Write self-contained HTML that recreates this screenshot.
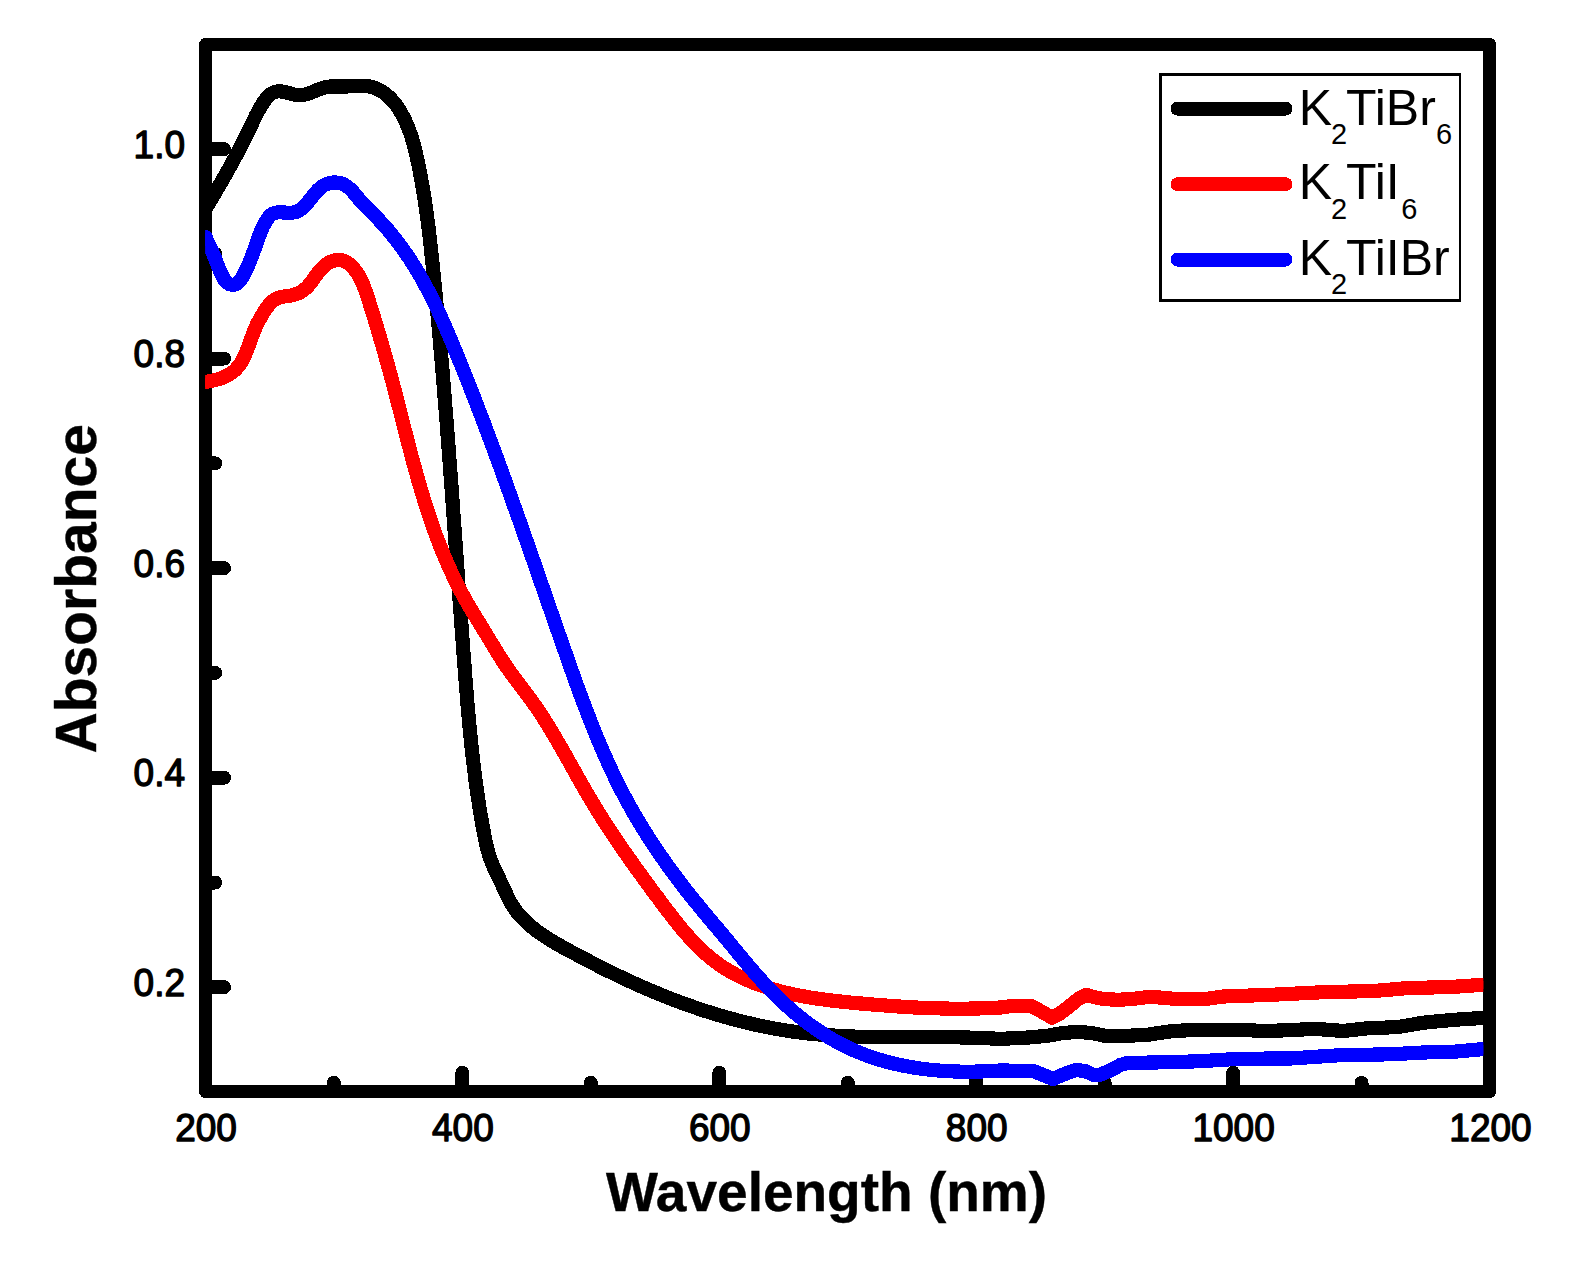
<!DOCTYPE html>
<html lang="en"><head><meta charset="utf-8"><title>Absorbance vs Wavelength</title>
<style>
html,body{margin:0;padding:0;background:#fff;}
body{width:1584px;height:1269px;overflow:hidden;}
svg text{white-space:pre;}
</style></head><body>
<svg width="1584" height="1269" viewBox="0 0 1584 1269" style="display:block" shape-rendering="crispEdges">
<defs><clipPath id="plotclip"><rect x="205.1" y="44" width="1278.2" height="1048"/></clipPath></defs>
<rect width="1584" height="1269" fill="#fff"/>
<g stroke="#000" stroke-width="14" stroke-linecap="round" fill="none">
<line x1="333.9" y1="1090" x2="333.9" y2="1082.8"/>
<line x1="462.4" y1="1090" x2="462.4" y2="1072.8"/>
<line x1="590.8" y1="1090" x2="590.8" y2="1082.8"/>
<line x1="719.3" y1="1090" x2="719.3" y2="1072.8"/>
<line x1="847.8" y1="1090" x2="847.8" y2="1082.8"/>
<line x1="976.2" y1="1090" x2="976.2" y2="1072.8"/>
<line x1="1104.7" y1="1090" x2="1104.7" y2="1082.8"/>
<line x1="1233.1" y1="1090" x2="1233.1" y2="1072.8"/>
<line x1="1361.5" y1="1090" x2="1361.5" y2="1082.8"/>
<line x1="208" y1="987.2" x2="224.0" y2="987.2"/>
<line x1="208" y1="882.5" x2="215.2" y2="882.5"/>
<line x1="208" y1="777.7" x2="224.0" y2="777.7"/>
<line x1="208" y1="672.9" x2="215.2" y2="672.9"/>
<line x1="208" y1="568.2" x2="224.0" y2="568.2"/>
<line x1="208" y1="463.4" x2="215.2" y2="463.4"/>
<line x1="208" y1="358.6" x2="224.0" y2="358.6"/>
<line x1="208" y1="253.8" x2="215.2" y2="253.8"/>
<line x1="208" y1="149.1" x2="224.0" y2="149.1"/>
</g>
<rect x="205.6" y="44.4" width="1284" height="1047.2" fill="none" stroke="#000" stroke-width="13" stroke-linejoin="round"/>
<g clip-path="url(#plotclip)" fill="none" stroke-width="14.2" stroke-linejoin="round" stroke-linecap="butt">
<path stroke="#000" d="M199.0 220.0 C199.4 219.3 200.7 217.1 201.5 215.7 C202.4 214.2 203.3 212.8 204.1 211.4 C205.0 209.9 205.8 208.5 206.7 207.1 C207.5 205.6 208.4 204.2 209.2 202.7 C210.1 201.3 210.9 199.9 211.8 198.4 C212.6 197.0 213.5 195.5 214.3 194.1 C215.2 192.7 216.0 191.2 216.8 189.8 C217.7 188.3 218.5 186.9 219.4 185.4 C220.2 184.0 221.0 182.5 221.9 181.1 C222.7 179.6 223.5 178.2 224.4 176.7 C225.2 175.3 226.0 173.8 226.8 172.4 C227.6 170.9 228.5 169.5 229.3 168.0 C230.1 166.5 230.9 165.1 231.7 163.6 C232.5 162.2 233.3 160.7 234.1 159.2 C234.9 157.8 235.7 156.3 236.5 154.8 C237.2 153.3 238.0 151.9 238.8 150.4 C239.6 148.9 240.3 147.4 241.1 146.0 C241.9 144.5 242.6 143.0 243.4 141.5 C244.1 140.0 244.9 138.5 245.6 137.0 C246.4 135.5 247.1 134.0 247.8 132.5 C248.5 131.0 249.3 129.5 250.0 128.0 C250.7 126.5 251.4 125.0 252.1 123.5 C252.8 122.0 253.5 120.5 254.3 118.9 C255.0 117.4 255.7 115.9 256.5 114.4 C257.3 112.9 258.1 111.4 258.9 109.9 C259.7 108.4 260.6 107.0 261.5 105.5 C262.4 104.0 263.3 102.5 264.3 101.1 C265.3 99.7 266.4 98.2 267.5 97.0 C268.7 95.8 269.9 94.6 271.2 93.8 C272.5 92.9 273.8 92.2 275.3 91.8 C276.8 91.4 278.3 91.3 279.9 91.4 C281.5 91.4 283.2 91.7 284.8 92.0 C286.5 92.4 288.2 92.9 289.8 93.4 C291.5 93.8 293.2 94.4 294.9 94.6 C296.5 94.9 298.2 95.2 299.8 95.2 C301.5 95.1 303.1 94.9 304.7 94.6 C306.3 94.2 307.9 93.7 309.5 93.2 C311.1 92.6 312.6 91.9 314.2 91.3 C315.8 90.7 317.3 89.9 318.9 89.3 C320.5 88.7 322.0 88.1 323.6 87.7 C325.2 87.2 326.8 86.9 328.4 86.7 C330.0 86.5 331.6 86.5 333.3 86.4 C334.9 86.4 336.6 86.5 338.3 86.5 C339.9 86.6 341.6 86.6 343.3 86.6 C345.0 86.6 346.7 86.5 348.4 86.4 C350.1 86.3 351.8 86.1 353.5 86.0 C355.2 86.0 356.9 85.8 358.6 85.8 C360.3 85.8 362.0 85.8 363.6 85.8 C365.3 85.9 366.9 86.1 368.6 86.3 C370.2 86.6 371.8 87.0 373.4 87.5 C374.9 88.0 376.5 88.6 378.0 89.3 C379.4 90.0 380.9 90.8 382.3 91.6 C383.6 92.5 385.0 93.5 386.3 94.5 C387.5 95.6 388.8 96.7 389.9 97.9 C391.1 99.0 392.3 100.3 393.4 101.6 C394.4 102.8 395.5 104.2 396.5 105.6 C397.5 106.9 398.4 108.4 399.3 109.8 C400.2 111.3 401.1 112.8 401.9 114.3 C402.8 115.8 403.6 117.3 404.3 118.8 C405.0 120.3 405.8 121.9 406.4 123.4 C407.1 124.9 407.7 126.5 408.4 128.1 C409.0 129.6 409.5 131.2 410.1 132.8 C410.6 134.3 411.2 135.9 411.7 137.5 C412.2 139.1 412.6 140.7 413.1 142.3 C413.6 143.9 414.0 145.5 414.4 147.1 C414.8 148.7 415.2 150.4 415.6 152.0 C416.0 153.6 416.4 155.2 416.7 156.8 C417.1 158.5 417.5 160.1 417.8 161.7 C418.1 163.4 418.5 165.0 418.8 166.6 C419.2 168.2 419.5 169.9 419.8 171.5 C420.1 173.1 420.4 174.8 420.7 176.4 C421.0 178.1 421.3 179.7 421.6 181.3 C421.9 183.0 422.2 184.6 422.5 186.3 C422.8 187.9 423.1 189.6 423.3 191.2 C423.6 192.8 423.9 194.5 424.1 196.1 C424.4 197.8 424.6 199.4 424.9 201.1 C425.1 202.7 425.4 204.4 425.6 206.0 C425.9 207.7 426.1 209.3 426.3 211.0 C426.5 212.7 426.8 214.3 427.0 216.0 C427.2 217.6 427.4 219.3 427.7 220.9 C427.9 222.6 428.1 224.2 428.3 225.9 C428.5 227.6 428.7 229.2 428.9 230.9 C429.1 232.5 429.3 234.2 429.5 235.9 C429.7 237.5 429.9 239.2 430.1 240.8 C430.2 242.5 430.4 244.2 430.6 245.8 C430.8 247.5 431.0 249.2 431.2 250.8 C431.3 252.5 431.5 254.2 431.7 255.8 C431.9 257.5 432.1 259.1 432.2 260.8 C432.4 262.5 432.6 264.1 432.7 265.8 C432.9 267.5 433.1 269.1 433.3 270.8 C433.4 272.5 433.6 274.1 433.8 275.8 C433.9 277.4 434.1 279.1 434.3 280.8 C434.4 282.4 434.6 284.1 434.7 285.8 C434.9 287.4 435.1 289.1 435.2 290.8 C435.4 292.4 435.6 294.1 435.7 295.8 C435.9 297.4 436.0 299.1 436.2 300.8 C436.4 302.4 436.5 304.1 436.7 305.7 C436.8 307.4 437.0 309.1 437.1 310.7 C437.3 312.4 437.5 314.1 437.6 315.7 C437.8 317.4 437.9 319.1 438.1 320.7 C438.2 322.4 438.4 324.1 438.5 325.7 C438.7 327.4 438.8 329.1 439.0 330.7 C439.1 332.4 439.3 334.0 439.4 335.7 C439.6 337.4 439.7 339.0 439.9 340.7 C440.0 342.4 440.2 344.0 440.3 345.7 C440.5 347.4 440.6 349.0 440.7 350.7 C440.9 352.4 441.0 354.0 441.2 355.7 C441.3 357.4 441.5 359.0 441.6 360.7 C441.8 362.4 441.9 364.0 442.0 365.7 C442.2 367.3 442.3 369.0 442.5 370.7 C442.6 372.3 442.7 374.0 442.9 375.7 C443.0 377.3 443.1 379.0 443.3 380.7 C443.4 382.3 443.6 384.0 443.7 385.7 C443.8 387.3 444.0 389.0 444.1 390.7 C444.2 392.3 444.4 394.0 444.5 395.7 C444.6 397.3 444.8 399.0 444.9 400.7 C445.0 402.3 445.2 404.0 445.3 405.6 C445.4 407.3 445.6 409.0 445.7 410.6 C445.8 412.3 446.0 414.0 446.1 415.6 C446.2 417.3 446.4 419.0 446.5 420.6 C446.6 422.3 446.7 424.0 446.9 425.6 C447.0 427.3 447.1 429.0 447.3 430.6 C447.4 432.3 447.5 434.0 447.6 435.6 C447.8 437.3 447.9 439.0 448.0 440.6 C448.2 442.3 448.3 444.0 448.4 445.6 C448.5 447.3 448.7 449.0 448.8 450.6 C448.9 452.3 449.0 454.0 449.2 455.6 C449.3 457.3 449.4 458.9 449.5 460.6 C449.7 462.3 449.8 463.9 449.9 465.6 C450.0 467.3 450.1 468.9 450.3 470.6 C450.4 472.3 450.5 473.9 450.6 475.6 C450.8 477.3 450.9 478.9 451.0 480.6 C451.1 482.3 451.3 483.9 451.4 485.6 C451.5 487.3 451.6 488.9 451.7 490.6 C451.9 492.3 452.0 493.9 452.1 495.6 C452.2 497.3 452.3 498.9 452.5 500.6 C452.6 502.3 452.7 503.9 452.8 505.6 C452.9 507.3 453.1 508.9 453.2 510.6 C453.3 512.3 453.4 513.9 453.5 515.6 C453.7 517.3 453.8 518.9 453.9 520.6 C454.0 522.3 454.1 523.9 454.3 525.6 C454.4 527.3 454.5 528.9 454.6 530.6 C454.7 532.2 454.9 533.9 455.0 535.6 C455.1 537.2 455.2 538.9 455.3 540.6 C455.5 542.2 455.6 543.9 455.7 545.6 C455.8 547.2 455.9 548.9 456.0 550.6 C456.2 552.2 456.3 553.9 456.4 555.6 C456.5 557.2 456.6 558.9 456.8 560.6 C456.9 562.2 457.0 563.9 457.1 565.6 C457.2 567.2 457.4 568.9 457.5 570.6 C457.6 572.2 457.7 573.9 457.8 575.6 C458.0 577.2 458.1 578.9 458.2 580.6 C458.3 582.2 458.4 583.9 458.5 585.6 C458.7 587.2 458.8 588.9 458.9 590.6 C459.0 592.2 459.1 593.9 459.3 595.6 C459.4 597.2 459.5 598.9 459.6 600.6 C459.8 602.2 459.9 603.9 460.0 605.6 C460.1 607.2 460.2 608.9 460.4 610.6 C460.5 612.2 460.6 613.9 460.7 615.6 C460.8 617.2 461.0 618.9 461.1 620.6 C461.2 622.2 461.3 623.9 461.5 625.6 C461.6 627.2 461.7 628.9 461.8 630.6 C461.9 632.2 462.1 633.9 462.2 635.6 C462.3 637.2 462.4 638.9 462.6 640.6 C462.7 642.2 462.8 643.9 462.9 645.6 C463.1 647.2 463.2 648.9 463.3 650.6 C463.4 652.2 463.6 653.9 463.7 655.6 C463.8 657.2 463.9 658.9 464.1 660.6 C464.2 662.2 464.3 663.9 464.5 665.6 C464.6 667.2 464.7 668.9 464.8 670.6 C465.0 672.2 465.1 673.9 465.2 675.6 C465.4 677.2 465.5 678.9 465.6 680.6 C465.7 682.2 465.9 683.9 466.0 685.6 C466.1 687.2 466.3 688.9 466.4 690.6 C466.5 692.2 466.7 693.9 466.8 695.6 C466.9 697.2 467.1 698.9 467.2 700.6 C467.4 702.2 467.5 703.9 467.6 705.6 C467.8 707.2 467.9 708.9 468.1 710.6 C468.2 712.2 468.4 713.9 468.5 715.5 C468.7 717.2 468.8 718.9 469.0 720.5 C469.1 722.2 469.3 723.9 469.4 725.5 C469.6 727.2 469.8 728.9 469.9 730.5 C470.1 732.2 470.2 733.9 470.4 735.5 C470.6 737.2 470.7 738.8 470.9 740.5 C471.1 742.2 471.2 743.8 471.4 745.5 C471.6 747.2 471.8 748.8 472.0 750.5 C472.1 752.1 472.3 753.8 472.5 755.5 C472.7 757.1 472.9 758.8 473.1 760.4 C473.3 762.1 473.5 763.8 473.7 765.4 C473.9 767.1 474.1 768.7 474.3 770.4 C474.5 772.1 474.7 773.7 474.9 775.4 C475.1 777.0 475.3 778.7 475.5 780.3 C475.8 782.0 476.0 783.7 476.2 785.3 C476.4 787.0 476.7 788.6 476.9 790.3 C477.1 791.9 477.4 793.6 477.6 795.2 C477.9 796.9 478.1 798.5 478.4 800.2 C478.6 801.8 478.9 803.5 479.1 805.2 C479.4 806.8 479.6 808.5 479.9 810.1 C480.2 811.8 480.5 813.4 480.7 815.1 C481.0 816.7 481.3 818.4 481.6 820.0 C481.9 821.6 482.2 823.3 482.4 824.9 C482.7 826.6 483.0 828.2 483.4 829.9 C483.7 831.5 484.0 833.2 484.3 834.8 C484.6 836.5 484.9 838.1 485.3 839.7 C485.6 841.4 486.0 843.0 486.3 844.6 C486.7 846.3 487.1 847.9 487.5 849.5 C487.9 851.1 488.4 852.7 488.9 854.3 C489.3 855.9 489.9 857.4 490.4 859.0 C491.0 860.6 491.6 862.1 492.2 863.6 C492.8 865.1 493.5 866.7 494.2 868.2 C494.8 869.7 495.6 871.2 496.3 872.7 C497.0 874.2 497.7 875.7 498.5 877.2 C499.2 878.7 499.9 880.2 500.7 881.8 C501.4 883.3 502.1 884.8 502.8 886.4 C503.6 887.9 504.3 889.5 505.0 891.1 C505.7 892.6 506.4 894.2 507.1 895.7 C507.9 897.3 508.6 898.8 509.4 900.3 C510.2 901.8 511.0 903.3 511.9 904.7 C512.8 906.1 513.7 907.5 514.6 908.8 C515.6 910.2 516.6 911.5 517.6 912.8 C518.7 914.0 519.7 915.3 520.8 916.5 C521.9 917.7 523.0 918.9 524.2 920.1 C525.4 921.2 526.6 922.4 527.8 923.5 C529.0 924.6 530.2 925.7 531.5 926.7 C532.8 927.8 534.1 928.8 535.4 929.8 C536.7 930.8 538.0 931.8 539.4 932.8 C540.8 933.8 542.1 934.7 543.5 935.6 C544.9 936.6 546.3 937.5 547.7 938.4 C549.2 939.3 550.6 940.2 552.1 941.1 C553.5 941.9 555.0 942.8 556.4 943.6 C557.9 944.5 559.4 945.3 560.9 946.2 C562.3 947.0 563.8 947.8 565.3 948.6 C566.8 949.4 568.3 950.2 569.8 951.0 C571.3 951.9 572.8 952.7 574.3 953.4 C575.8 954.2 577.2 955.0 578.7 955.8 C580.2 956.6 581.7 957.4 583.2 958.2 C584.7 959.0 586.2 959.7 587.7 960.5 C589.2 961.3 590.6 962.1 592.1 962.8 C593.6 963.6 595.1 964.4 596.6 965.1 C598.1 965.9 599.6 966.6 601.1 967.4 C602.6 968.1 604.1 968.9 605.5 969.6 C607.0 970.4 608.5 971.1 610.0 971.8 C611.5 972.6 613.0 973.3 614.5 974.0 C616.0 974.7 617.5 975.5 619.0 976.2 C620.5 976.9 622.0 977.6 623.5 978.3 C625.0 979.0 626.5 979.7 628.0 980.4 C629.5 981.1 631.0 981.8 632.5 982.5 C634.1 983.2 635.6 983.9 637.1 984.6 C638.6 985.2 640.1 985.9 641.6 986.6 C643.1 987.2 644.7 987.9 646.2 988.6 C647.7 989.2 649.2 989.9 650.8 990.5 C652.3 991.2 653.8 991.8 655.4 992.5 C656.9 993.1 658.4 993.7 660.0 994.4 C661.5 995.0 663.1 995.6 664.6 996.2 C666.2 996.9 667.7 997.5 669.3 998.1 C670.8 998.7 672.4 999.3 673.9 999.9 C675.5 1000.5 677.0 1001.1 678.6 1001.7 C680.2 1002.2 681.7 1002.8 683.3 1003.4 C684.9 1004.0 686.4 1004.5 688.0 1005.1 C689.6 1005.6 691.1 1006.2 692.7 1006.7 C694.3 1007.3 695.9 1007.8 697.5 1008.4 C699.0 1008.9 700.6 1009.4 702.2 1010.0 C703.8 1010.5 705.4 1011.0 707.0 1011.5 C708.6 1012.0 710.1 1012.5 711.7 1013.0 C713.3 1013.5 714.9 1014.0 716.5 1014.5 C718.1 1015.0 719.7 1015.4 721.3 1015.9 C722.9 1016.4 724.5 1016.8 726.1 1017.3 C727.7 1017.7 729.3 1018.2 731.0 1018.6 C732.6 1019.1 734.2 1019.5 735.8 1019.9 C737.4 1020.3 739.0 1020.8 740.6 1021.2 C742.3 1021.6 743.9 1022.0 745.5 1022.4 C747.1 1022.8 748.7 1023.2 750.4 1023.5 C752.0 1023.9 753.6 1024.3 755.2 1024.7 C756.9 1025.0 758.5 1025.4 760.1 1025.7 C761.8 1026.1 763.4 1026.4 765.0 1026.7 C766.7 1027.1 768.3 1027.4 769.9 1027.7 C771.6 1028.0 773.2 1028.3 774.8 1028.6 C776.5 1028.9 778.1 1029.2 779.8 1029.5 C781.4 1029.8 783.1 1030.0 784.7 1030.3 C786.4 1030.6 788.0 1030.8 789.7 1031.1 C791.3 1031.3 793.0 1031.6 794.6 1031.8 C796.3 1032.0 797.9 1032.2 799.6 1032.4 C801.2 1032.6 802.9 1032.8 804.5 1033.0 C806.2 1033.2 807.8 1033.4 809.5 1033.6 C811.2 1033.8 812.8 1033.9 814.5 1034.1 C816.1 1034.2 817.8 1034.4 819.5 1034.5 C821.1 1034.7 822.8 1034.8 824.5 1034.9 C826.1 1035.1 827.8 1035.2 829.5 1035.3 C831.1 1035.4 832.8 1035.5 834.5 1035.6 C836.1 1035.7 837.8 1035.8 839.5 1035.9 C841.1 1036.0 842.8 1036.1 844.5 1036.2 C846.1 1036.2 847.8 1036.3 849.5 1036.4 C851.2 1036.5 852.8 1036.5 854.5 1036.6 C856.2 1036.6 857.9 1036.7 859.5 1036.7 C861.2 1036.8 862.9 1036.8 864.6 1036.9 C866.2 1036.9 867.9 1036.9 869.6 1037.0 C871.3 1037.0 872.9 1037.0 874.6 1037.0 C876.3 1037.1 878.0 1037.1 879.7 1037.1 C881.3 1037.1 883.0 1037.1 884.7 1037.1 C886.4 1037.2 888.0 1037.2 889.7 1037.2 C891.4 1037.2 893.1 1037.2 894.8 1037.2 C896.4 1037.2 898.1 1037.2 899.8 1037.2 C901.5 1037.2 903.1 1037.2 904.8 1037.2 C906.5 1037.2 908.2 1037.2 909.9 1037.2 C911.5 1037.2 913.2 1037.2 914.9 1037.2 C916.6 1037.2 918.2 1037.2 919.9 1037.2 C921.6 1037.2 923.3 1037.2 924.9 1037.2 C926.6 1037.2 928.3 1037.2 930.0 1037.2 C931.6 1037.2 933.3 1037.2 935.0 1037.2 C936.7 1037.2 938.3 1037.2 940.0 1037.2 C941.7 1037.2 943.4 1037.2 945.0 1037.2 C946.7 1037.2 948.4 1037.3 950.0 1037.3 C951.7 1037.3 953.4 1037.3 955.1 1037.3 C956.7 1037.3 958.4 1037.4 960.1 1037.4 C961.7 1037.4 963.4 1037.5 965.1 1037.5 C966.7 1037.5 968.4 1037.6 970.1 1037.6 C971.7 1037.7 973.4 1037.7 975.0 1037.8 C976.7 1037.8 978.4 1037.9 980.0 1037.9 C981.7 1038.0 983.3 1038.1 985.0 1038.1 C986.7 1038.2 988.3 1038.3 990.0 1038.4 C991.6 1038.4 993.3 1038.5 994.9 1038.6 C996.6 1038.7 999.1 1038.9 999.9 1038.9 L1028.4 1037.5 L1047.3 1035.8 L1061.6 1033.2 L1077.7 1031.8 L1092.8 1033.2 L1104.2 1035.7 L1123.1 1036.1 L1150.0 1034.5 L1156.7 1033.3 L1173.3 1031.0 L1190.0 1030.2 L1204.0 1030.0 L1238.3 1029.8 L1265.0 1031.0 L1290.0 1030.2 L1315.0 1028.8 L1343.3 1031.0 L1365.0 1028.5 L1398.3 1027.0 L1423.3 1022.7 L1454.0 1019.8 L1490.0 1017.5"/>
<path stroke="#000" stroke-width="8" transform="translate(0.37,0.41)" d="M199.0 220.0 C199.4 219.3 200.7 217.1 201.5 215.7 C202.4 214.2 203.3 212.8 204.1 211.4 C205.0 209.9 205.8 208.5 206.7 207.1 C207.5 205.6 208.4 204.2 209.2 202.7 C210.1 201.3 210.9 199.9 211.8 198.4 C212.6 197.0 213.5 195.5 214.3 194.1 C215.2 192.7 216.0 191.2 216.8 189.8 C217.7 188.3 218.5 186.9 219.4 185.4 C220.2 184.0 221.0 182.5 221.9 181.1 C222.7 179.6 223.5 178.2 224.4 176.7 C225.2 175.3 226.0 173.8 226.8 172.4 C227.6 170.9 228.5 169.5 229.3 168.0 C230.1 166.5 230.9 165.1 231.7 163.6 C232.5 162.2 233.3 160.7 234.1 159.2 C234.9 157.8 235.7 156.3 236.5 154.8 C237.2 153.3 238.0 151.9 238.8 150.4 C239.6 148.9 240.3 147.4 241.1 146.0 C241.9 144.5 242.6 143.0 243.4 141.5 C244.1 140.0 244.9 138.5 245.6 137.0 C246.4 135.5 247.1 134.0 247.8 132.5 C248.5 131.0 249.3 129.5 250.0 128.0 C250.7 126.5 251.4 125.0 252.1 123.5 C252.8 122.0 253.5 120.5 254.3 118.9 C255.0 117.4 255.7 115.9 256.5 114.4 C257.3 112.9 258.1 111.4 258.9 109.9 C259.7 108.4 260.6 107.0 261.5 105.5 C262.4 104.0 263.3 102.5 264.3 101.1 C265.3 99.7 266.4 98.2 267.5 97.0 C268.7 95.8 269.9 94.6 271.2 93.8 C272.5 92.9 273.8 92.2 275.3 91.8 C276.8 91.4 278.3 91.3 279.9 91.4 C281.5 91.4 283.2 91.7 284.8 92.0 C286.5 92.4 288.2 92.9 289.8 93.4 C291.5 93.8 293.2 94.4 294.9 94.6 C296.5 94.9 298.2 95.2 299.8 95.2 C301.5 95.1 303.1 94.9 304.7 94.6 C306.3 94.2 307.9 93.7 309.5 93.2 C311.1 92.6 312.6 91.9 314.2 91.3 C315.8 90.7 317.3 89.9 318.9 89.3 C320.5 88.7 322.0 88.1 323.6 87.7 C325.2 87.2 326.8 86.9 328.4 86.7 C330.0 86.5 331.6 86.5 333.3 86.4 C334.9 86.4 336.6 86.5 338.3 86.5 C339.9 86.6 341.6 86.6 343.3 86.6 C345.0 86.6 346.7 86.5 348.4 86.4 C350.1 86.3 351.8 86.1 353.5 86.0 C355.2 86.0 356.9 85.8 358.6 85.8 C360.3 85.8 362.0 85.8 363.6 85.8 C365.3 85.9 366.9 86.1 368.6 86.3 C370.2 86.6 371.8 87.0 373.4 87.5 C374.9 88.0 376.5 88.6 378.0 89.3 C379.4 90.0 380.9 90.8 382.3 91.6 C383.6 92.5 385.0 93.5 386.3 94.5 C387.5 95.6 388.8 96.7 389.9 97.9 C391.1 99.0 392.3 100.3 393.4 101.6 C394.4 102.8 395.5 104.2 396.5 105.6 C397.5 106.9 398.4 108.4 399.3 109.8 C400.2 111.3 401.1 112.8 401.9 114.3 C402.8 115.8 403.6 117.3 404.3 118.8 C405.0 120.3 405.8 121.9 406.4 123.4 C407.1 124.9 407.7 126.5 408.4 128.1 C409.0 129.6 409.5 131.2 410.1 132.8 C410.6 134.3 411.2 135.9 411.7 137.5 C412.2 139.1 412.6 140.7 413.1 142.3 C413.6 143.9 414.0 145.5 414.4 147.1 C414.8 148.7 415.2 150.4 415.6 152.0 C416.0 153.6 416.4 155.2 416.7 156.8 C417.1 158.5 417.5 160.1 417.8 161.7 C418.1 163.4 418.5 165.0 418.8 166.6 C419.2 168.2 419.5 169.9 419.8 171.5 C420.1 173.1 420.4 174.8 420.7 176.4 C421.0 178.1 421.3 179.7 421.6 181.3 C421.9 183.0 422.2 184.6 422.5 186.3 C422.8 187.9 423.1 189.6 423.3 191.2 C423.6 192.8 423.9 194.5 424.1 196.1 C424.4 197.8 424.6 199.4 424.9 201.1 C425.1 202.7 425.4 204.4 425.6 206.0 C425.9 207.7 426.1 209.3 426.3 211.0 C426.5 212.7 426.8 214.3 427.0 216.0 C427.2 217.6 427.4 219.3 427.7 220.9 C427.9 222.6 428.1 224.2 428.3 225.9 C428.5 227.6 428.7 229.2 428.9 230.9 C429.1 232.5 429.3 234.2 429.5 235.9 C429.7 237.5 429.9 239.2 430.1 240.8 C430.2 242.5 430.4 244.2 430.6 245.8 C430.8 247.5 431.0 249.2 431.2 250.8 C431.3 252.5 431.5 254.2 431.7 255.8 C431.9 257.5 432.1 259.1 432.2 260.8 C432.4 262.5 432.6 264.1 432.7 265.8 C432.9 267.5 433.1 269.1 433.3 270.8 C433.4 272.5 433.6 274.1 433.8 275.8 C433.9 277.4 434.1 279.1 434.3 280.8 C434.4 282.4 434.6 284.1 434.7 285.8 C434.9 287.4 435.1 289.1 435.2 290.8 C435.4 292.4 435.6 294.1 435.7 295.8 C435.9 297.4 436.0 299.1 436.2 300.8 C436.4 302.4 436.5 304.1 436.7 305.7 C436.8 307.4 437.0 309.1 437.1 310.7 C437.3 312.4 437.5 314.1 437.6 315.7 C437.8 317.4 437.9 319.1 438.1 320.7 C438.2 322.4 438.4 324.1 438.5 325.7 C438.7 327.4 438.8 329.1 439.0 330.7 C439.1 332.4 439.3 334.0 439.4 335.7 C439.6 337.4 439.7 339.0 439.9 340.7 C440.0 342.4 440.2 344.0 440.3 345.7 C440.5 347.4 440.6 349.0 440.7 350.7 C440.9 352.4 441.0 354.0 441.2 355.7 C441.3 357.4 441.5 359.0 441.6 360.7 C441.8 362.4 441.9 364.0 442.0 365.7 C442.2 367.3 442.3 369.0 442.5 370.7 C442.6 372.3 442.7 374.0 442.9 375.7 C443.0 377.3 443.1 379.0 443.3 380.7 C443.4 382.3 443.6 384.0 443.7 385.7 C443.8 387.3 444.0 389.0 444.1 390.7 C444.2 392.3 444.4 394.0 444.5 395.7 C444.6 397.3 444.8 399.0 444.9 400.7 C445.0 402.3 445.2 404.0 445.3 405.6 C445.4 407.3 445.6 409.0 445.7 410.6 C445.8 412.3 446.0 414.0 446.1 415.6 C446.2 417.3 446.4 419.0 446.5 420.6 C446.6 422.3 446.7 424.0 446.9 425.6 C447.0 427.3 447.1 429.0 447.3 430.6 C447.4 432.3 447.5 434.0 447.6 435.6 C447.8 437.3 447.9 439.0 448.0 440.6 C448.2 442.3 448.3 444.0 448.4 445.6 C448.5 447.3 448.7 449.0 448.8 450.6 C448.9 452.3 449.0 454.0 449.2 455.6 C449.3 457.3 449.4 458.9 449.5 460.6 C449.7 462.3 449.8 463.9 449.9 465.6 C450.0 467.3 450.1 468.9 450.3 470.6 C450.4 472.3 450.5 473.9 450.6 475.6 C450.8 477.3 450.9 478.9 451.0 480.6 C451.1 482.3 451.3 483.9 451.4 485.6 C451.5 487.3 451.6 488.9 451.7 490.6 C451.9 492.3 452.0 493.9 452.1 495.6 C452.2 497.3 452.3 498.9 452.5 500.6 C452.6 502.3 452.7 503.9 452.8 505.6 C452.9 507.3 453.1 508.9 453.2 510.6 C453.3 512.3 453.4 513.9 453.5 515.6 C453.7 517.3 453.8 518.9 453.9 520.6 C454.0 522.3 454.1 523.9 454.3 525.6 C454.4 527.3 454.5 528.9 454.6 530.6 C454.7 532.2 454.9 533.9 455.0 535.6 C455.1 537.2 455.2 538.9 455.3 540.6 C455.5 542.2 455.6 543.9 455.7 545.6 C455.8 547.2 455.9 548.9 456.0 550.6 C456.2 552.2 456.3 553.9 456.4 555.6 C456.5 557.2 456.6 558.9 456.8 560.6 C456.9 562.2 457.0 563.9 457.1 565.6 C457.2 567.2 457.4 568.9 457.5 570.6 C457.6 572.2 457.7 573.9 457.8 575.6 C458.0 577.2 458.1 578.9 458.2 580.6 C458.3 582.2 458.4 583.9 458.5 585.6 C458.7 587.2 458.8 588.9 458.9 590.6 C459.0 592.2 459.1 593.9 459.3 595.6 C459.4 597.2 459.5 598.9 459.6 600.6 C459.8 602.2 459.9 603.9 460.0 605.6 C460.1 607.2 460.2 608.9 460.4 610.6 C460.5 612.2 460.6 613.9 460.7 615.6 C460.8 617.2 461.0 618.9 461.1 620.6 C461.2 622.2 461.3 623.9 461.5 625.6 C461.6 627.2 461.7 628.9 461.8 630.6 C461.9 632.2 462.1 633.9 462.2 635.6 C462.3 637.2 462.4 638.9 462.6 640.6 C462.7 642.2 462.8 643.9 462.9 645.6 C463.1 647.2 463.2 648.9 463.3 650.6 C463.4 652.2 463.6 653.9 463.7 655.6 C463.8 657.2 463.9 658.9 464.1 660.6 C464.2 662.2 464.3 663.9 464.5 665.6 C464.6 667.2 464.7 668.9 464.8 670.6 C465.0 672.2 465.1 673.9 465.2 675.6 C465.4 677.2 465.5 678.9 465.6 680.6 C465.7 682.2 465.9 683.9 466.0 685.6 C466.1 687.2 466.3 688.9 466.4 690.6 C466.5 692.2 466.7 693.9 466.8 695.6 C466.9 697.2 467.1 698.9 467.2 700.6 C467.4 702.2 467.5 703.9 467.6 705.6 C467.8 707.2 467.9 708.9 468.1 710.6 C468.2 712.2 468.4 713.9 468.5 715.5 C468.7 717.2 468.8 718.9 469.0 720.5 C469.1 722.2 469.3 723.9 469.4 725.5 C469.6 727.2 469.8 728.9 469.9 730.5 C470.1 732.2 470.2 733.9 470.4 735.5 C470.6 737.2 470.7 738.8 470.9 740.5 C471.1 742.2 471.2 743.8 471.4 745.5 C471.6 747.2 471.8 748.8 472.0 750.5 C472.1 752.1 472.3 753.8 472.5 755.5 C472.7 757.1 472.9 758.8 473.1 760.4 C473.3 762.1 473.5 763.8 473.7 765.4 C473.9 767.1 474.1 768.7 474.3 770.4 C474.5 772.1 474.7 773.7 474.9 775.4 C475.1 777.0 475.3 778.7 475.5 780.3 C475.8 782.0 476.0 783.7 476.2 785.3 C476.4 787.0 476.7 788.6 476.9 790.3 C477.1 791.9 477.4 793.6 477.6 795.2 C477.9 796.9 478.1 798.5 478.4 800.2 C478.6 801.8 478.9 803.5 479.1 805.2 C479.4 806.8 479.6 808.5 479.9 810.1 C480.2 811.8 480.5 813.4 480.7 815.1 C481.0 816.7 481.3 818.4 481.6 820.0 C481.9 821.6 482.2 823.3 482.4 824.9 C482.7 826.6 483.0 828.2 483.4 829.9 C483.7 831.5 484.0 833.2 484.3 834.8 C484.6 836.5 484.9 838.1 485.3 839.7 C485.6 841.4 486.0 843.0 486.3 844.6 C486.7 846.3 487.1 847.9 487.5 849.5 C487.9 851.1 488.4 852.7 488.9 854.3 C489.3 855.9 489.9 857.4 490.4 859.0 C491.0 860.6 491.6 862.1 492.2 863.6 C492.8 865.1 493.5 866.7 494.2 868.2 C494.8 869.7 495.6 871.2 496.3 872.7 C497.0 874.2 497.7 875.7 498.5 877.2 C499.2 878.7 499.9 880.2 500.7 881.8 C501.4 883.3 502.1 884.8 502.8 886.4 C503.6 887.9 504.3 889.5 505.0 891.1 C505.7 892.6 506.4 894.2 507.1 895.7 C507.9 897.3 508.6 898.8 509.4 900.3 C510.2 901.8 511.0 903.3 511.9 904.7 C512.8 906.1 513.7 907.5 514.6 908.8 C515.6 910.2 516.6 911.5 517.6 912.8 C518.7 914.0 519.7 915.3 520.8 916.5 C521.9 917.7 523.0 918.9 524.2 920.1 C525.4 921.2 526.6 922.4 527.8 923.5 C529.0 924.6 530.2 925.7 531.5 926.7 C532.8 927.8 534.1 928.8 535.4 929.8 C536.7 930.8 538.0 931.8 539.4 932.8 C540.8 933.8 542.1 934.7 543.5 935.6 C544.9 936.6 546.3 937.5 547.7 938.4 C549.2 939.3 550.6 940.2 552.1 941.1 C553.5 941.9 555.0 942.8 556.4 943.6 C557.9 944.5 559.4 945.3 560.9 946.2 C562.3 947.0 563.8 947.8 565.3 948.6 C566.8 949.4 568.3 950.2 569.8 951.0 C571.3 951.9 572.8 952.7 574.3 953.4 C575.8 954.2 577.2 955.0 578.7 955.8 C580.2 956.6 581.7 957.4 583.2 958.2 C584.7 959.0 586.2 959.7 587.7 960.5 C589.2 961.3 590.6 962.1 592.1 962.8 C593.6 963.6 595.1 964.4 596.6 965.1 C598.1 965.9 599.6 966.6 601.1 967.4 C602.6 968.1 604.1 968.9 605.5 969.6 C607.0 970.4 608.5 971.1 610.0 971.8 C611.5 972.6 613.0 973.3 614.5 974.0 C616.0 974.7 617.5 975.5 619.0 976.2 C620.5 976.9 622.0 977.6 623.5 978.3 C625.0 979.0 626.5 979.7 628.0 980.4 C629.5 981.1 631.0 981.8 632.5 982.5 C634.1 983.2 635.6 983.9 637.1 984.6 C638.6 985.2 640.1 985.9 641.6 986.6 C643.1 987.2 644.7 987.9 646.2 988.6 C647.7 989.2 649.2 989.9 650.8 990.5 C652.3 991.2 653.8 991.8 655.4 992.5 C656.9 993.1 658.4 993.7 660.0 994.4 C661.5 995.0 663.1 995.6 664.6 996.2 C666.2 996.9 667.7 997.5 669.3 998.1 C670.8 998.7 672.4 999.3 673.9 999.9 C675.5 1000.5 677.0 1001.1 678.6 1001.7 C680.2 1002.2 681.7 1002.8 683.3 1003.4 C684.9 1004.0 686.4 1004.5 688.0 1005.1 C689.6 1005.6 691.1 1006.2 692.7 1006.7 C694.3 1007.3 695.9 1007.8 697.5 1008.4 C699.0 1008.9 700.6 1009.4 702.2 1010.0 C703.8 1010.5 705.4 1011.0 707.0 1011.5 C708.6 1012.0 710.1 1012.5 711.7 1013.0 C713.3 1013.5 714.9 1014.0 716.5 1014.5 C718.1 1015.0 719.7 1015.4 721.3 1015.9 C722.9 1016.4 724.5 1016.8 726.1 1017.3 C727.7 1017.7 729.3 1018.2 731.0 1018.6 C732.6 1019.1 734.2 1019.5 735.8 1019.9 C737.4 1020.3 739.0 1020.8 740.6 1021.2 C742.3 1021.6 743.9 1022.0 745.5 1022.4 C747.1 1022.8 748.7 1023.2 750.4 1023.5 C752.0 1023.9 753.6 1024.3 755.2 1024.7 C756.9 1025.0 758.5 1025.4 760.1 1025.7 C761.8 1026.1 763.4 1026.4 765.0 1026.7 C766.7 1027.1 768.3 1027.4 769.9 1027.7 C771.6 1028.0 773.2 1028.3 774.8 1028.6 C776.5 1028.9 778.1 1029.2 779.8 1029.5 C781.4 1029.8 783.1 1030.0 784.7 1030.3 C786.4 1030.6 788.0 1030.8 789.7 1031.1 C791.3 1031.3 793.0 1031.6 794.6 1031.8 C796.3 1032.0 797.9 1032.2 799.6 1032.4 C801.2 1032.6 802.9 1032.8 804.5 1033.0 C806.2 1033.2 807.8 1033.4 809.5 1033.6 C811.2 1033.8 812.8 1033.9 814.5 1034.1 C816.1 1034.2 817.8 1034.4 819.5 1034.5 C821.1 1034.7 822.8 1034.8 824.5 1034.9 C826.1 1035.1 827.8 1035.2 829.5 1035.3 C831.1 1035.4 832.8 1035.5 834.5 1035.6 C836.1 1035.7 837.8 1035.8 839.5 1035.9 C841.1 1036.0 842.8 1036.1 844.5 1036.2 C846.1 1036.2 847.8 1036.3 849.5 1036.4 C851.2 1036.5 852.8 1036.5 854.5 1036.6 C856.2 1036.6 857.9 1036.7 859.5 1036.7 C861.2 1036.8 862.9 1036.8 864.6 1036.9 C866.2 1036.9 867.9 1036.9 869.6 1037.0 C871.3 1037.0 872.9 1037.0 874.6 1037.0 C876.3 1037.1 878.0 1037.1 879.7 1037.1 C881.3 1037.1 883.0 1037.1 884.7 1037.1 C886.4 1037.2 888.0 1037.2 889.7 1037.2 C891.4 1037.2 893.1 1037.2 894.8 1037.2 C896.4 1037.2 898.1 1037.2 899.8 1037.2 C901.5 1037.2 903.1 1037.2 904.8 1037.2 C906.5 1037.2 908.2 1037.2 909.9 1037.2 C911.5 1037.2 913.2 1037.2 914.9 1037.2 C916.6 1037.2 918.2 1037.2 919.9 1037.2 C921.6 1037.2 923.3 1037.2 924.9 1037.2 C926.6 1037.2 928.3 1037.2 930.0 1037.2 C931.6 1037.2 933.3 1037.2 935.0 1037.2 C936.7 1037.2 938.3 1037.2 940.0 1037.2 C941.7 1037.2 943.4 1037.2 945.0 1037.2 C946.7 1037.2 948.4 1037.3 950.0 1037.3 C951.7 1037.3 953.4 1037.3 955.1 1037.3 C956.7 1037.3 958.4 1037.4 960.1 1037.4 C961.7 1037.4 963.4 1037.5 965.1 1037.5 C966.7 1037.5 968.4 1037.6 970.1 1037.6 C971.7 1037.7 973.4 1037.7 975.0 1037.8 C976.7 1037.8 978.4 1037.9 980.0 1037.9 C981.7 1038.0 983.3 1038.1 985.0 1038.1 C986.7 1038.2 988.3 1038.3 990.0 1038.4 C991.6 1038.4 993.3 1038.5 994.9 1038.6 C996.6 1038.7 999.1 1038.9 999.9 1038.9 L1028.4 1037.5 L1047.3 1035.8 L1061.6 1033.2 L1077.7 1031.8 L1092.8 1033.2 L1104.2 1035.7 L1123.1 1036.1 L1150.0 1034.5 L1156.7 1033.3 L1173.3 1031.0 L1190.0 1030.2 L1204.0 1030.0 L1238.3 1029.8 L1265.0 1031.0 L1290.0 1030.2 L1315.0 1028.8 L1343.3 1031.0 L1365.0 1028.5 L1398.3 1027.0 L1423.3 1022.7 L1454.0 1019.8 L1490.0 1017.5"/>
<path stroke="#f00" d="M199.1 383.0 C199.9 382.8 202.2 382.5 203.8 382.3 C205.4 382.0 207.1 381.8 208.7 381.4 C210.4 381.1 212.1 380.8 213.8 380.4 C215.4 380.0 217.1 379.5 218.8 379.0 C220.4 378.5 222.0 377.9 223.6 377.3 C225.1 376.6 226.7 375.9 228.1 375.1 C229.6 374.3 230.9 373.4 232.2 372.5 C233.5 371.5 234.7 370.5 235.8 369.3 C236.9 368.2 238.0 366.9 238.9 365.7 C239.9 364.4 240.8 363.0 241.6 361.6 C242.4 360.2 243.2 358.7 243.9 357.2 C244.7 355.7 245.3 354.2 246.0 352.6 C246.7 351.0 247.3 349.4 247.9 347.8 C248.5 346.2 249.1 344.6 249.6 342.9 C250.2 341.3 250.8 339.7 251.4 338.1 C252.0 336.5 252.6 334.8 253.2 333.3 C253.8 331.7 254.4 330.2 255.1 328.6 C255.7 327.1 256.4 325.6 257.1 324.1 C257.9 322.6 258.6 321.2 259.4 319.7 C260.2 318.3 261.0 316.8 261.9 315.4 C262.7 313.9 263.6 312.5 264.5 311.1 C265.5 309.6 266.5 308.2 267.5 306.8 C268.6 305.4 269.7 304.1 270.9 302.9 C272.0 301.7 273.3 300.6 274.6 299.7 C276.0 298.9 277.4 298.1 278.9 297.6 C280.4 297.1 282.0 296.8 283.7 296.6 C285.3 296.3 287.0 296.2 288.7 295.9 C290.3 295.7 292.0 295.4 293.6 294.9 C295.2 294.5 296.8 293.9 298.4 293.2 C299.9 292.5 301.3 291.7 302.7 290.8 C304.0 289.9 305.3 288.8 306.5 287.7 C307.7 286.5 308.7 285.3 309.8 284.0 C310.9 282.7 311.9 281.3 312.9 279.9 C313.9 278.5 314.9 277.1 315.9 275.7 C316.9 274.3 317.9 272.9 319.0 271.6 C320.1 270.3 321.2 269.0 322.4 267.8 C323.6 266.6 324.8 265.4 326.2 264.4 C327.6 263.4 329.1 262.5 330.6 261.8 C332.2 261.1 333.9 260.5 335.5 260.2 C337.1 259.9 338.8 259.8 340.3 260.0 C341.9 260.1 343.3 260.6 344.8 261.2 C346.2 261.8 347.6 262.7 348.9 263.7 C350.2 264.7 351.4 265.9 352.5 267.1 C353.7 268.4 354.8 269.8 355.8 271.2 C356.8 272.6 357.8 274.1 358.7 275.6 C359.6 277.1 360.4 278.6 361.1 280.1 C361.9 281.6 362.6 283.2 363.2 284.7 C363.9 286.3 364.5 287.9 365.0 289.4 C365.6 291.0 366.2 292.6 366.7 294.2 C367.2 295.7 367.7 297.3 368.2 298.9 C368.7 300.5 369.2 302.1 369.7 303.7 C370.2 305.3 370.7 306.8 371.2 308.4 C371.7 310.0 372.2 311.6 372.7 313.2 C373.2 314.8 373.7 316.4 374.2 318.0 C374.7 319.6 375.1 321.1 375.6 322.7 C376.1 324.3 376.6 325.9 377.1 327.5 C377.5 329.1 378.0 330.7 378.5 332.3 C379.0 333.9 379.4 335.5 379.9 337.1 C380.4 338.7 380.8 340.3 381.3 341.9 C381.8 343.5 382.2 345.1 382.7 346.7 C383.2 348.2 383.6 349.8 384.1 351.4 C384.5 353.0 385.0 354.6 385.4 356.2 C385.9 357.9 386.3 359.5 386.8 361.1 C387.2 362.7 387.7 364.3 388.1 365.9 C388.6 367.5 389.0 369.1 389.4 370.7 C389.9 372.3 390.3 373.9 390.7 375.5 C391.2 377.1 391.6 378.7 392.0 380.3 C392.5 382.0 392.9 383.6 393.3 385.2 C393.7 386.8 394.2 388.4 394.6 390.0 C395.0 391.7 395.4 393.3 395.8 394.9 C396.3 396.5 396.7 398.1 397.1 399.7 C397.5 401.4 397.9 403.0 398.3 404.6 C398.8 406.2 399.2 407.8 399.6 409.5 C400.0 411.1 400.4 412.7 400.8 414.3 C401.2 415.9 401.7 417.6 402.1 419.2 C402.5 420.8 402.9 422.4 403.3 424.1 C403.7 425.7 404.1 427.3 404.5 428.9 C405.0 430.5 405.4 432.2 405.8 433.8 C406.2 435.4 406.6 437.0 407.0 438.7 C407.5 440.3 407.9 441.9 408.3 443.5 C408.7 445.1 409.1 446.8 409.6 448.4 C410.0 450.0 410.4 451.6 410.8 453.2 C411.3 454.8 411.7 456.5 412.1 458.1 C412.6 459.7 413.0 461.3 413.4 462.9 C413.9 464.5 414.3 466.2 414.8 467.8 C415.2 469.4 415.6 471.0 416.1 472.6 C416.5 474.2 417.0 475.8 417.4 477.4 C417.9 479.0 418.4 480.7 418.8 482.3 C419.3 483.9 419.7 485.5 420.2 487.1 C420.7 488.7 421.2 490.3 421.6 491.9 C422.1 493.5 422.6 495.1 423.1 496.7 C423.6 498.3 424.1 499.9 424.6 501.4 C425.0 503.0 425.5 504.6 426.1 506.2 C426.6 507.8 427.1 509.4 427.6 511.0 C428.1 512.6 428.6 514.1 429.1 515.7 C429.7 517.3 430.2 518.9 430.7 520.5 C431.3 522.0 431.8 523.6 432.4 525.2 C432.9 526.7 433.5 528.3 434.0 529.9 C434.6 531.4 435.2 533.0 435.7 534.6 C436.3 536.1 436.9 537.7 437.5 539.2 C438.1 540.8 438.7 542.3 439.3 543.9 C439.9 545.4 440.5 547.0 441.1 548.5 C441.7 550.1 442.4 551.6 443.0 553.2 C443.6 554.7 444.3 556.2 444.9 557.8 C445.6 559.3 446.2 560.8 446.9 562.3 C447.5 563.9 448.2 565.4 448.9 566.9 C449.6 568.4 450.3 569.9 451.0 571.4 C451.7 572.9 452.4 574.5 453.1 576.0 C453.8 577.5 454.5 579.0 455.3 580.4 C456.0 581.9 456.8 583.4 457.5 584.9 C458.3 586.4 459.0 587.9 459.8 589.4 C460.6 590.8 461.4 592.3 462.2 593.8 C463.0 595.3 463.8 596.7 464.6 598.2 C465.4 599.7 466.2 601.1 467.1 602.6 C467.9 604.0 468.7 605.5 469.6 606.9 C470.4 608.4 471.3 609.8 472.2 611.2 C473.0 612.7 473.9 614.1 474.8 615.5 C475.7 617.0 476.5 618.4 477.4 619.8 C478.3 621.3 479.2 622.7 480.1 624.1 C480.9 625.6 481.8 627.0 482.7 628.4 C483.6 629.9 484.4 631.3 485.3 632.7 C486.2 634.1 487.0 635.6 487.9 637.0 C488.8 638.4 489.6 639.9 490.5 641.3 C491.3 642.7 492.2 644.1 493.1 645.6 C493.9 647.0 494.8 648.4 495.7 649.8 C496.5 651.2 497.4 652.7 498.3 654.1 C499.2 655.5 500.0 656.9 500.9 658.3 C501.8 659.7 502.7 661.1 503.6 662.4 C504.6 663.8 505.5 665.2 506.4 666.6 C507.4 667.9 508.3 669.3 509.3 670.7 C510.2 672.0 511.2 673.4 512.2 674.7 C513.2 676.0 514.2 677.4 515.2 678.7 C516.2 680.0 517.2 681.4 518.2 682.7 C519.2 684.0 520.2 685.4 521.2 686.7 C522.2 688.0 523.2 689.3 524.2 690.7 C525.2 692.0 526.2 693.3 527.2 694.7 C528.2 696.0 529.2 697.4 530.2 698.7 C531.2 700.1 532.2 701.4 533.1 702.8 C534.1 704.1 535.0 705.5 536.0 706.9 C536.9 708.3 537.9 709.7 538.8 711.0 C539.7 712.4 540.6 713.8 541.5 715.2 C542.5 716.6 543.4 718.0 544.3 719.4 C545.1 720.8 546.0 722.2 546.9 723.7 C547.8 725.1 548.7 726.5 549.5 727.9 C550.4 729.4 551.3 730.8 552.1 732.2 C553.0 733.6 553.9 735.1 554.7 736.5 C555.6 738.0 556.4 739.4 557.2 740.8 C558.1 742.3 558.9 743.7 559.8 745.2 C560.6 746.6 561.4 748.1 562.2 749.5 C563.1 751.0 563.9 752.5 564.7 753.9 C565.6 755.4 566.4 756.8 567.2 758.3 C568.0 759.7 568.8 761.2 569.6 762.6 C570.5 764.1 571.3 765.6 572.1 767.0 C572.9 768.5 573.7 769.9 574.6 771.4 C575.4 772.9 576.2 774.3 577.0 775.8 C577.8 777.2 578.6 778.7 579.5 780.1 C580.3 781.6 581.1 783.0 581.9 784.5 C582.8 785.9 583.6 787.4 584.4 788.8 C585.3 790.3 586.1 791.7 586.9 793.2 C587.8 794.6 588.6 796.0 589.4 797.5 C590.3 798.9 591.1 800.3 592.0 801.8 C592.9 803.2 593.7 804.6 594.6 806.0 C595.4 807.4 596.3 808.9 597.2 810.3 C598.0 811.7 598.9 813.1 599.8 814.5 C600.7 815.9 601.6 817.3 602.5 818.7 C603.4 820.1 604.2 821.5 605.1 822.9 C606.0 824.3 606.9 825.7 607.9 827.1 C608.8 828.5 609.7 829.9 610.6 831.3 C611.5 832.6 612.4 834.0 613.3 835.4 C614.3 836.8 615.2 838.2 616.1 839.5 C617.0 840.9 618.0 842.3 618.9 843.7 C619.8 845.0 620.8 846.4 621.7 847.8 C622.7 849.1 623.6 850.5 624.6 851.9 C625.5 853.2 626.5 854.6 627.4 856.0 C628.4 857.3 629.3 858.7 630.3 860.0 C631.3 861.4 632.2 862.8 633.2 864.1 C634.2 865.5 635.1 866.8 636.1 868.2 C637.1 869.6 638.1 870.9 639.0 872.3 C640.0 873.6 641.0 875.0 642.0 876.3 C643.0 877.7 644.0 879.0 645.0 880.4 C645.9 881.7 646.9 883.1 647.9 884.5 C648.9 885.8 649.9 887.2 650.9 888.5 C651.9 889.9 652.9 891.2 653.9 892.6 C654.9 893.9 655.9 895.3 657.0 896.6 C658.0 898.0 659.0 899.4 660.0 900.7 C661.0 902.1 662.0 903.4 663.0 904.8 C664.0 906.1 665.1 907.5 666.1 908.8 C667.1 910.2 668.1 911.5 669.2 912.9 C670.2 914.2 671.2 915.6 672.3 916.9 C673.3 918.3 674.4 919.6 675.4 920.9 C676.5 922.2 677.5 923.6 678.6 924.9 C679.7 926.2 680.7 927.5 681.8 928.8 C682.9 930.1 684.0 931.4 685.1 932.6 C686.2 933.9 687.3 935.2 688.4 936.4 C689.5 937.7 690.7 938.9 691.8 940.1 C692.9 941.3 694.1 942.5 695.2 943.7 C696.4 944.9 697.5 946.1 698.7 947.3 C699.9 948.4 701.1 949.6 702.3 950.7 C703.5 951.8 704.7 952.9 705.9 954.0 C707.2 955.1 708.4 956.2 709.7 957.2 C710.9 958.3 712.2 959.3 713.5 960.3 C714.8 961.3 716.1 962.3 717.4 963.2 C718.7 964.2 720.0 965.1 721.4 966.0 C722.7 966.9 724.1 967.8 725.5 968.7 C726.8 969.6 728.2 970.4 729.6 971.2 C731.0 972.0 732.4 972.8 733.9 973.6 C735.3 974.4 736.8 975.1 738.2 975.9 C739.7 976.6 741.1 977.3 742.6 978.0 C744.1 978.7 745.6 979.4 747.1 980.0 C748.6 980.7 750.1 981.3 751.6 981.9 C753.2 982.6 754.7 983.2 756.2 983.7 C757.8 984.3 759.4 984.9 760.9 985.4 C762.5 986.0 764.1 986.5 765.6 987.0 C767.2 987.5 768.8 988.0 770.4 988.5 C772.0 989.0 773.6 989.5 775.2 989.9 C776.9 990.4 778.5 990.8 780.1 991.2 C781.7 991.7 783.4 992.1 785.0 992.5 C786.7 992.9 788.3 993.2 790.0 993.6 C791.6 994.0 793.3 994.3 794.9 994.7 C796.6 995.0 798.3 995.3 799.9 995.7 C801.6 996.0 803.3 996.3 805.0 996.6 C806.7 996.9 808.3 997.2 810.0 997.5 C811.7 997.7 813.4 998.0 815.1 998.3 C816.8 998.5 818.5 998.8 820.2 999.0 C821.9 999.3 823.6 999.5 825.3 999.7 C827.0 999.9 828.7 1000.1 830.4 1000.4 C832.1 1000.6 833.8 1000.8 835.5 1001.0 C837.2 1001.2 838.9 1001.3 840.6 1001.5 C842.3 1001.7 844.0 1001.9 845.7 1002.1 C847.3 1002.2 849.0 1002.4 850.7 1002.6 C852.4 1002.7 854.1 1002.9 855.8 1003.0 C857.5 1003.2 859.2 1003.4 860.8 1003.5 C862.5 1003.6 864.2 1003.8 865.9 1003.9 C867.5 1004.1 869.2 1004.2 870.9 1004.4 C872.5 1004.5 874.2 1004.6 875.8 1004.8 C877.5 1004.9 879.2 1005.0 880.8 1005.2 C882.4 1005.3 884.1 1005.4 885.7 1005.5 C887.4 1005.7 889.0 1005.8 890.7 1005.9 C892.3 1006.0 893.9 1006.1 895.6 1006.3 C897.2 1006.4 898.8 1006.5 900.4 1006.6 C902.1 1006.7 903.7 1006.8 905.3 1006.9 C907.0 1007.0 908.6 1007.1 910.2 1007.2 C911.8 1007.3 913.5 1007.4 915.1 1007.5 C916.7 1007.5 918.3 1007.6 920.0 1007.7 C921.6 1007.8 923.2 1007.8 924.8 1007.9 C926.5 1008.0 928.1 1008.1 929.7 1008.1 C931.4 1008.2 933.0 1008.2 934.6 1008.3 C936.3 1008.3 937.9 1008.4 939.5 1008.4 C941.2 1008.5 942.8 1008.5 944.5 1008.5 C946.1 1008.6 947.7 1008.6 949.4 1008.6 C951.0 1008.6 952.7 1008.6 954.4 1008.7 C956.0 1008.7 957.7 1008.7 959.3 1008.7 C961.0 1008.7 962.7 1008.7 964.3 1008.7 C966.0 1008.6 967.7 1008.6 969.4 1008.6 C971.1 1008.6 972.8 1008.6 974.5 1008.5 C976.1 1008.5 977.8 1008.4 979.6 1008.4 C981.3 1008.3 983.0 1008.3 984.7 1008.2 C986.4 1008.2 988.1 1008.1 989.9 1008.0 C991.6 1008.0 993.3 1007.9 995.1 1007.8 C996.8 1007.7 999.5 1007.5 1000.4 1007.5 L1012.3 1006.0 L1032.2 1006.3 L1052.1 1017.6 L1060.6 1013.1 L1071.0 1005.0 L1078.6 998.7 L1086.2 994.9 L1094.7 997.3 L1104.2 999.1 L1118.4 999.8 L1132.6 998.9 L1150.0 996.8 L1153.3 997.0 L1173.3 998.7 L1204.0 999.2 L1223.3 996.5 L1273.3 994.7 L1323.3 992.2 L1373.3 991.0 L1406.7 988.2 L1454.0 986.8 L1490.0 984.3"/>
<path stroke="#f00" stroke-width="8" transform="translate(0.37,0.41)" d="M199.1 383.0 C199.9 382.8 202.2 382.5 203.8 382.3 C205.4 382.0 207.1 381.8 208.7 381.4 C210.4 381.1 212.1 380.8 213.8 380.4 C215.4 380.0 217.1 379.5 218.8 379.0 C220.4 378.5 222.0 377.9 223.6 377.3 C225.1 376.6 226.7 375.9 228.1 375.1 C229.6 374.3 230.9 373.4 232.2 372.5 C233.5 371.5 234.7 370.5 235.8 369.3 C236.9 368.2 238.0 366.9 238.9 365.7 C239.9 364.4 240.8 363.0 241.6 361.6 C242.4 360.2 243.2 358.7 243.9 357.2 C244.7 355.7 245.3 354.2 246.0 352.6 C246.7 351.0 247.3 349.4 247.9 347.8 C248.5 346.2 249.1 344.6 249.6 342.9 C250.2 341.3 250.8 339.7 251.4 338.1 C252.0 336.5 252.6 334.8 253.2 333.3 C253.8 331.7 254.4 330.2 255.1 328.6 C255.7 327.1 256.4 325.6 257.1 324.1 C257.9 322.6 258.6 321.2 259.4 319.7 C260.2 318.3 261.0 316.8 261.9 315.4 C262.7 313.9 263.6 312.5 264.5 311.1 C265.5 309.6 266.5 308.2 267.5 306.8 C268.6 305.4 269.7 304.1 270.9 302.9 C272.0 301.7 273.3 300.6 274.6 299.7 C276.0 298.9 277.4 298.1 278.9 297.6 C280.4 297.1 282.0 296.8 283.7 296.6 C285.3 296.3 287.0 296.2 288.7 295.9 C290.3 295.7 292.0 295.4 293.6 294.9 C295.2 294.5 296.8 293.9 298.4 293.2 C299.9 292.5 301.3 291.7 302.7 290.8 C304.0 289.9 305.3 288.8 306.5 287.7 C307.7 286.5 308.7 285.3 309.8 284.0 C310.9 282.7 311.9 281.3 312.9 279.9 C313.9 278.5 314.9 277.1 315.9 275.7 C316.9 274.3 317.9 272.9 319.0 271.6 C320.1 270.3 321.2 269.0 322.4 267.8 C323.6 266.6 324.8 265.4 326.2 264.4 C327.6 263.4 329.1 262.5 330.6 261.8 C332.2 261.1 333.9 260.5 335.5 260.2 C337.1 259.9 338.8 259.8 340.3 260.0 C341.9 260.1 343.3 260.6 344.8 261.2 C346.2 261.8 347.6 262.7 348.9 263.7 C350.2 264.7 351.4 265.9 352.5 267.1 C353.7 268.4 354.8 269.8 355.8 271.2 C356.8 272.6 357.8 274.1 358.7 275.6 C359.6 277.1 360.4 278.6 361.1 280.1 C361.9 281.6 362.6 283.2 363.2 284.7 C363.9 286.3 364.5 287.9 365.0 289.4 C365.6 291.0 366.2 292.6 366.7 294.2 C367.2 295.7 367.7 297.3 368.2 298.9 C368.7 300.5 369.2 302.1 369.7 303.7 C370.2 305.3 370.7 306.8 371.2 308.4 C371.7 310.0 372.2 311.6 372.7 313.2 C373.2 314.8 373.7 316.4 374.2 318.0 C374.7 319.6 375.1 321.1 375.6 322.7 C376.1 324.3 376.6 325.9 377.1 327.5 C377.5 329.1 378.0 330.7 378.5 332.3 C379.0 333.9 379.4 335.5 379.9 337.1 C380.4 338.7 380.8 340.3 381.3 341.9 C381.8 343.5 382.2 345.1 382.7 346.7 C383.2 348.2 383.6 349.8 384.1 351.4 C384.5 353.0 385.0 354.6 385.4 356.2 C385.9 357.9 386.3 359.5 386.8 361.1 C387.2 362.7 387.7 364.3 388.1 365.9 C388.6 367.5 389.0 369.1 389.4 370.7 C389.9 372.3 390.3 373.9 390.7 375.5 C391.2 377.1 391.6 378.7 392.0 380.3 C392.5 382.0 392.9 383.6 393.3 385.2 C393.7 386.8 394.2 388.4 394.6 390.0 C395.0 391.7 395.4 393.3 395.8 394.9 C396.3 396.5 396.7 398.1 397.1 399.7 C397.5 401.4 397.9 403.0 398.3 404.6 C398.8 406.2 399.2 407.8 399.6 409.5 C400.0 411.1 400.4 412.7 400.8 414.3 C401.2 415.9 401.7 417.6 402.1 419.2 C402.5 420.8 402.9 422.4 403.3 424.1 C403.7 425.7 404.1 427.3 404.5 428.9 C405.0 430.5 405.4 432.2 405.8 433.8 C406.2 435.4 406.6 437.0 407.0 438.7 C407.5 440.3 407.9 441.9 408.3 443.5 C408.7 445.1 409.1 446.8 409.6 448.4 C410.0 450.0 410.4 451.6 410.8 453.2 C411.3 454.8 411.7 456.5 412.1 458.1 C412.6 459.7 413.0 461.3 413.4 462.9 C413.9 464.5 414.3 466.2 414.8 467.8 C415.2 469.4 415.6 471.0 416.1 472.6 C416.5 474.2 417.0 475.8 417.4 477.4 C417.9 479.0 418.4 480.7 418.8 482.3 C419.3 483.9 419.7 485.5 420.2 487.1 C420.7 488.7 421.2 490.3 421.6 491.9 C422.1 493.5 422.6 495.1 423.1 496.7 C423.6 498.3 424.1 499.9 424.6 501.4 C425.0 503.0 425.5 504.6 426.1 506.2 C426.6 507.8 427.1 509.4 427.6 511.0 C428.1 512.6 428.6 514.1 429.1 515.7 C429.7 517.3 430.2 518.9 430.7 520.5 C431.3 522.0 431.8 523.6 432.4 525.2 C432.9 526.7 433.5 528.3 434.0 529.9 C434.6 531.4 435.2 533.0 435.7 534.6 C436.3 536.1 436.9 537.7 437.5 539.2 C438.1 540.8 438.7 542.3 439.3 543.9 C439.9 545.4 440.5 547.0 441.1 548.5 C441.7 550.1 442.4 551.6 443.0 553.2 C443.6 554.7 444.3 556.2 444.9 557.8 C445.6 559.3 446.2 560.8 446.9 562.3 C447.5 563.9 448.2 565.4 448.9 566.9 C449.6 568.4 450.3 569.9 451.0 571.4 C451.7 572.9 452.4 574.5 453.1 576.0 C453.8 577.5 454.5 579.0 455.3 580.4 C456.0 581.9 456.8 583.4 457.5 584.9 C458.3 586.4 459.0 587.9 459.8 589.4 C460.6 590.8 461.4 592.3 462.2 593.8 C463.0 595.3 463.8 596.7 464.6 598.2 C465.4 599.7 466.2 601.1 467.1 602.6 C467.9 604.0 468.7 605.5 469.6 606.9 C470.4 608.4 471.3 609.8 472.2 611.2 C473.0 612.7 473.9 614.1 474.8 615.5 C475.7 617.0 476.5 618.4 477.4 619.8 C478.3 621.3 479.2 622.7 480.1 624.1 C480.9 625.6 481.8 627.0 482.7 628.4 C483.6 629.9 484.4 631.3 485.3 632.7 C486.2 634.1 487.0 635.6 487.9 637.0 C488.8 638.4 489.6 639.9 490.5 641.3 C491.3 642.7 492.2 644.1 493.1 645.6 C493.9 647.0 494.8 648.4 495.7 649.8 C496.5 651.2 497.4 652.7 498.3 654.1 C499.2 655.5 500.0 656.9 500.9 658.3 C501.8 659.7 502.7 661.1 503.6 662.4 C504.6 663.8 505.5 665.2 506.4 666.6 C507.4 667.9 508.3 669.3 509.3 670.7 C510.2 672.0 511.2 673.4 512.2 674.7 C513.2 676.0 514.2 677.4 515.2 678.7 C516.2 680.0 517.2 681.4 518.2 682.7 C519.2 684.0 520.2 685.4 521.2 686.7 C522.2 688.0 523.2 689.3 524.2 690.7 C525.2 692.0 526.2 693.3 527.2 694.7 C528.2 696.0 529.2 697.4 530.2 698.7 C531.2 700.1 532.2 701.4 533.1 702.8 C534.1 704.1 535.0 705.5 536.0 706.9 C536.9 708.3 537.9 709.7 538.8 711.0 C539.7 712.4 540.6 713.8 541.5 715.2 C542.5 716.6 543.4 718.0 544.3 719.4 C545.1 720.8 546.0 722.2 546.9 723.7 C547.8 725.1 548.7 726.5 549.5 727.9 C550.4 729.4 551.3 730.8 552.1 732.2 C553.0 733.6 553.9 735.1 554.7 736.5 C555.6 738.0 556.4 739.4 557.2 740.8 C558.1 742.3 558.9 743.7 559.8 745.2 C560.6 746.6 561.4 748.1 562.2 749.5 C563.1 751.0 563.9 752.5 564.7 753.9 C565.6 755.4 566.4 756.8 567.2 758.3 C568.0 759.7 568.8 761.2 569.6 762.6 C570.5 764.1 571.3 765.6 572.1 767.0 C572.9 768.5 573.7 769.9 574.6 771.4 C575.4 772.9 576.2 774.3 577.0 775.8 C577.8 777.2 578.6 778.7 579.5 780.1 C580.3 781.6 581.1 783.0 581.9 784.5 C582.8 785.9 583.6 787.4 584.4 788.8 C585.3 790.3 586.1 791.7 586.9 793.2 C587.8 794.6 588.6 796.0 589.4 797.5 C590.3 798.9 591.1 800.3 592.0 801.8 C592.9 803.2 593.7 804.6 594.6 806.0 C595.4 807.4 596.3 808.9 597.2 810.3 C598.0 811.7 598.9 813.1 599.8 814.5 C600.7 815.9 601.6 817.3 602.5 818.7 C603.4 820.1 604.2 821.5 605.1 822.9 C606.0 824.3 606.9 825.7 607.9 827.1 C608.8 828.5 609.7 829.9 610.6 831.3 C611.5 832.6 612.4 834.0 613.3 835.4 C614.3 836.8 615.2 838.2 616.1 839.5 C617.0 840.9 618.0 842.3 618.9 843.7 C619.8 845.0 620.8 846.4 621.7 847.8 C622.7 849.1 623.6 850.5 624.6 851.9 C625.5 853.2 626.5 854.6 627.4 856.0 C628.4 857.3 629.3 858.7 630.3 860.0 C631.3 861.4 632.2 862.8 633.2 864.1 C634.2 865.5 635.1 866.8 636.1 868.2 C637.1 869.6 638.1 870.9 639.0 872.3 C640.0 873.6 641.0 875.0 642.0 876.3 C643.0 877.7 644.0 879.0 645.0 880.4 C645.9 881.7 646.9 883.1 647.9 884.5 C648.9 885.8 649.9 887.2 650.9 888.5 C651.9 889.9 652.9 891.2 653.9 892.6 C654.9 893.9 655.9 895.3 657.0 896.6 C658.0 898.0 659.0 899.4 660.0 900.7 C661.0 902.1 662.0 903.4 663.0 904.8 C664.0 906.1 665.1 907.5 666.1 908.8 C667.1 910.2 668.1 911.5 669.2 912.9 C670.2 914.2 671.2 915.6 672.3 916.9 C673.3 918.3 674.4 919.6 675.4 920.9 C676.5 922.2 677.5 923.6 678.6 924.9 C679.7 926.2 680.7 927.5 681.8 928.8 C682.9 930.1 684.0 931.4 685.1 932.6 C686.2 933.9 687.3 935.2 688.4 936.4 C689.5 937.7 690.7 938.9 691.8 940.1 C692.9 941.3 694.1 942.5 695.2 943.7 C696.4 944.9 697.5 946.1 698.7 947.3 C699.9 948.4 701.1 949.6 702.3 950.7 C703.5 951.8 704.7 952.9 705.9 954.0 C707.2 955.1 708.4 956.2 709.7 957.2 C710.9 958.3 712.2 959.3 713.5 960.3 C714.8 961.3 716.1 962.3 717.4 963.2 C718.7 964.2 720.0 965.1 721.4 966.0 C722.7 966.9 724.1 967.8 725.5 968.7 C726.8 969.6 728.2 970.4 729.6 971.2 C731.0 972.0 732.4 972.8 733.9 973.6 C735.3 974.4 736.8 975.1 738.2 975.9 C739.7 976.6 741.1 977.3 742.6 978.0 C744.1 978.7 745.6 979.4 747.1 980.0 C748.6 980.7 750.1 981.3 751.6 981.9 C753.2 982.6 754.7 983.2 756.2 983.7 C757.8 984.3 759.4 984.9 760.9 985.4 C762.5 986.0 764.1 986.5 765.6 987.0 C767.2 987.5 768.8 988.0 770.4 988.5 C772.0 989.0 773.6 989.5 775.2 989.9 C776.9 990.4 778.5 990.8 780.1 991.2 C781.7 991.7 783.4 992.1 785.0 992.5 C786.7 992.9 788.3 993.2 790.0 993.6 C791.6 994.0 793.3 994.3 794.9 994.7 C796.6 995.0 798.3 995.3 799.9 995.7 C801.6 996.0 803.3 996.3 805.0 996.6 C806.7 996.9 808.3 997.2 810.0 997.5 C811.7 997.7 813.4 998.0 815.1 998.3 C816.8 998.5 818.5 998.8 820.2 999.0 C821.9 999.3 823.6 999.5 825.3 999.7 C827.0 999.9 828.7 1000.1 830.4 1000.4 C832.1 1000.6 833.8 1000.8 835.5 1001.0 C837.2 1001.2 838.9 1001.3 840.6 1001.5 C842.3 1001.7 844.0 1001.9 845.7 1002.1 C847.3 1002.2 849.0 1002.4 850.7 1002.6 C852.4 1002.7 854.1 1002.9 855.8 1003.0 C857.5 1003.2 859.2 1003.4 860.8 1003.5 C862.5 1003.6 864.2 1003.8 865.9 1003.9 C867.5 1004.1 869.2 1004.2 870.9 1004.4 C872.5 1004.5 874.2 1004.6 875.8 1004.8 C877.5 1004.9 879.2 1005.0 880.8 1005.2 C882.4 1005.3 884.1 1005.4 885.7 1005.5 C887.4 1005.7 889.0 1005.8 890.7 1005.9 C892.3 1006.0 893.9 1006.1 895.6 1006.3 C897.2 1006.4 898.8 1006.5 900.4 1006.6 C902.1 1006.7 903.7 1006.8 905.3 1006.9 C907.0 1007.0 908.6 1007.1 910.2 1007.2 C911.8 1007.3 913.5 1007.4 915.1 1007.5 C916.7 1007.5 918.3 1007.6 920.0 1007.7 C921.6 1007.8 923.2 1007.8 924.8 1007.9 C926.5 1008.0 928.1 1008.1 929.7 1008.1 C931.4 1008.2 933.0 1008.2 934.6 1008.3 C936.3 1008.3 937.9 1008.4 939.5 1008.4 C941.2 1008.5 942.8 1008.5 944.5 1008.5 C946.1 1008.6 947.7 1008.6 949.4 1008.6 C951.0 1008.6 952.7 1008.6 954.4 1008.7 C956.0 1008.7 957.7 1008.7 959.3 1008.7 C961.0 1008.7 962.7 1008.7 964.3 1008.7 C966.0 1008.6 967.7 1008.6 969.4 1008.6 C971.1 1008.6 972.8 1008.6 974.5 1008.5 C976.1 1008.5 977.8 1008.4 979.6 1008.4 C981.3 1008.3 983.0 1008.3 984.7 1008.2 C986.4 1008.2 988.1 1008.1 989.9 1008.0 C991.6 1008.0 993.3 1007.9 995.1 1007.8 C996.8 1007.7 999.5 1007.5 1000.4 1007.5 L1012.3 1006.0 L1032.2 1006.3 L1052.1 1017.6 L1060.6 1013.1 L1071.0 1005.0 L1078.6 998.7 L1086.2 994.9 L1094.7 997.3 L1104.2 999.1 L1118.4 999.8 L1132.6 998.9 L1150.0 996.8 L1153.3 997.0 L1173.3 998.7 L1204.0 999.2 L1223.3 996.5 L1273.3 994.7 L1323.3 992.2 L1373.3 991.0 L1406.7 988.2 L1454.0 986.8 L1490.0 984.3"/>
<path stroke="#00f" d="M190.0 237.0 L205.4 237.0 L207.8 242.3 C208.2 243.1 209.5 245.5 210.2 247.0 C211.0 248.6 211.6 250.1 212.3 251.6 C212.9 253.1 213.5 254.6 214.1 256.1 C214.7 257.6 215.3 259.0 215.9 260.5 C216.5 262.0 217.0 263.5 217.6 265.0 C218.2 266.6 218.9 268.1 219.5 269.7 C220.2 271.2 220.9 272.9 221.7 274.5 C222.4 276.1 223.2 277.9 224.2 279.3 C225.2 280.7 226.4 282.2 227.7 283.1 C229.0 284.1 230.7 284.7 232.1 284.9 C233.5 285.1 235.0 284.7 236.3 284.1 C237.6 283.4 238.7 282.3 239.8 281.0 C240.8 279.8 241.8 278.2 242.7 276.7 C243.5 275.1 244.4 273.5 245.1 271.9 C245.9 270.3 246.7 268.8 247.4 267.2 C248.1 265.7 248.7 264.2 249.4 262.6 C250.0 261.1 250.6 259.6 251.2 258.1 C251.8 256.6 252.4 255.1 252.9 253.5 C253.5 252.0 254.0 250.5 254.6 248.9 C255.1 247.4 255.7 245.9 256.2 244.3 C256.8 242.7 257.3 241.1 257.9 239.5 C258.4 237.9 259.0 236.3 259.6 234.7 C260.3 233.1 260.9 231.4 261.6 229.9 C262.2 228.3 262.9 226.7 263.7 225.2 C264.5 223.7 265.3 222.2 266.2 220.8 C267.1 219.5 268.0 218.1 269.0 216.9 C270.1 215.7 271.2 214.6 272.5 213.9 C273.9 213.2 275.4 212.8 276.9 212.5 C278.5 212.3 280.3 212.3 282.1 212.4 C283.8 212.4 285.7 212.6 287.5 212.7 C289.3 212.7 291.1 212.8 292.8 212.6 C294.5 212.4 296.1 212.0 297.5 211.4 C299.0 210.8 300.3 209.8 301.6 208.8 C302.9 207.8 304.0 206.6 305.2 205.4 C306.4 204.1 307.5 202.8 308.5 201.5 C309.6 200.1 310.7 198.7 311.8 197.4 C312.8 196.0 313.9 194.6 315.0 193.3 C316.1 192.0 317.3 190.8 318.4 189.6 C319.6 188.5 320.9 187.4 322.2 186.4 C323.5 185.5 324.9 184.7 326.4 184.1 C327.9 183.5 329.6 183.0 331.2 182.7 C332.8 182.5 334.6 182.4 336.3 182.5 C337.9 182.6 339.6 182.9 341.2 183.4 C342.8 183.9 344.3 184.6 345.7 185.5 C347.1 186.3 348.4 187.4 349.6 188.5 C350.9 189.6 352.1 190.9 353.2 192.2 C354.4 193.5 355.5 194.9 356.6 196.2 C357.7 197.5 358.8 198.8 359.9 200.1 C361.1 201.4 362.2 202.6 363.4 203.8 C364.5 205.0 365.7 206.2 366.8 207.4 C368.0 208.6 369.1 209.8 370.3 210.9 C371.4 212.1 372.6 213.3 373.8 214.4 C374.9 215.6 376.1 216.8 377.2 218.0 C378.4 219.2 379.5 220.4 380.6 221.7 C381.8 222.9 382.9 224.1 384.0 225.4 C385.1 226.7 386.3 227.9 387.4 229.2 C388.4 230.5 389.5 231.8 390.6 233.1 C391.7 234.4 392.7 235.7 393.8 237.0 C394.8 238.3 395.9 239.6 396.9 240.9 C397.9 242.3 398.9 243.6 399.9 244.9 C400.9 246.3 401.9 247.6 402.9 249.0 C403.8 250.4 404.8 251.7 405.7 253.1 C406.7 254.5 407.6 255.8 408.5 257.2 C409.5 258.6 410.4 260.0 411.3 261.4 C412.2 262.8 413.1 264.2 413.9 265.6 C414.8 267.1 415.7 268.5 416.5 269.9 C417.4 271.3 418.3 272.8 419.1 274.2 C419.9 275.6 420.8 277.1 421.6 278.5 C422.4 280.0 423.2 281.4 424.0 282.9 C424.8 284.3 425.6 285.8 426.4 287.3 C427.2 288.8 427.9 290.2 428.7 291.7 C429.5 293.2 430.2 294.7 431.0 296.2 C431.7 297.6 432.5 299.1 433.2 300.6 C434.0 302.1 434.7 303.6 435.4 305.1 C436.1 306.6 436.8 308.1 437.6 309.7 C438.3 311.2 439.0 312.7 439.7 314.2 C440.4 315.7 441.0 317.2 441.7 318.8 C442.4 320.3 443.1 321.8 443.8 323.3 C444.4 324.9 445.1 326.4 445.8 327.9 C446.5 329.5 447.1 331.0 447.8 332.6 C448.4 334.1 449.1 335.6 449.7 337.2 C450.4 338.7 451.0 340.3 451.7 341.8 C452.3 343.3 453.0 344.9 453.6 346.4 C454.3 348.0 454.9 349.5 455.5 351.1 C456.2 352.6 456.8 354.2 457.4 355.7 C458.1 357.3 458.7 358.8 459.3 360.4 C459.9 361.9 460.6 363.5 461.2 365.0 C461.8 366.6 462.5 368.1 463.1 369.7 C463.7 371.2 464.3 372.8 464.9 374.3 C465.6 375.9 466.2 377.4 466.8 379.0 C467.4 380.5 468.0 382.1 468.6 383.6 C469.2 385.2 469.9 386.7 470.5 388.3 C471.1 389.9 471.7 391.4 472.3 393.0 C472.9 394.5 473.5 396.1 474.1 397.6 C474.7 399.2 475.3 400.7 475.9 402.3 C476.5 403.9 477.1 405.4 477.7 407.0 C478.3 408.5 478.9 410.1 479.5 411.7 C480.1 413.2 480.7 414.8 481.3 416.3 C481.9 417.9 482.5 419.5 483.1 421.0 C483.7 422.6 484.3 424.1 484.9 425.7 C485.4 427.3 486.0 428.8 486.6 430.4 C487.2 431.9 487.8 433.5 488.4 435.1 C489.0 436.6 489.5 438.2 490.1 439.8 C490.7 441.3 491.3 442.9 491.9 444.4 C492.5 446.0 493.0 447.6 493.6 449.1 C494.2 450.7 494.8 452.3 495.3 453.8 C495.9 455.4 496.5 457.0 497.1 458.5 C497.6 460.1 498.2 461.7 498.8 463.2 C499.4 464.8 499.9 466.4 500.5 467.9 C501.1 469.5 501.6 471.1 502.2 472.6 C502.8 474.2 503.3 475.8 503.9 477.3 C504.5 478.9 505.0 480.5 505.6 482.0 C506.2 483.6 506.7 485.2 507.3 486.8 C507.9 488.3 508.4 489.9 509.0 491.5 C509.6 493.0 510.1 494.6 510.7 496.2 C511.2 497.7 511.8 499.3 512.4 500.9 C512.9 502.5 513.5 504.0 514.0 505.6 C514.6 507.2 515.2 508.8 515.7 510.3 C516.3 511.9 516.8 513.5 517.4 515.0 C517.9 516.6 518.5 518.2 519.1 519.8 C519.6 521.3 520.2 522.9 520.7 524.5 C521.3 526.1 521.8 527.6 522.4 529.2 C522.9 530.8 523.5 532.4 524.0 533.9 C524.6 535.5 525.1 537.1 525.7 538.6 C526.3 540.2 526.8 541.8 527.4 543.4 C527.9 544.9 528.5 546.5 529.0 548.1 C529.6 549.7 530.1 551.3 530.7 552.8 C531.2 554.4 531.8 556.0 532.3 557.6 C532.9 559.1 533.4 560.7 534.0 562.3 C534.5 563.9 535.1 565.4 535.6 567.0 C536.1 568.6 536.7 570.2 537.2 571.7 C537.8 573.3 538.3 574.9 538.9 576.5 C539.4 578.1 540.0 579.6 540.5 581.2 C541.1 582.8 541.6 584.4 542.2 585.9 C542.7 587.5 543.3 589.1 543.8 590.7 C544.4 592.3 544.9 593.8 545.5 595.4 C546.0 597.0 546.6 598.6 547.1 600.2 C547.7 601.7 548.2 603.3 548.8 604.9 C549.3 606.5 549.8 608.1 550.4 609.6 C550.9 611.2 551.5 612.8 552.0 614.4 C552.6 615.9 553.1 617.5 553.7 619.1 C554.2 620.7 554.8 622.3 555.3 623.8 C555.9 625.4 556.4 627.0 557.0 628.6 C557.5 630.2 558.1 631.7 558.6 633.3 C559.2 634.9 559.7 636.5 560.3 638.1 C560.8 639.6 561.4 641.2 561.9 642.8 C562.5 644.4 563.0 646.0 563.6 647.5 C564.2 649.1 564.7 650.7 565.3 652.3 C565.8 653.9 566.4 655.4 566.9 657.0 C567.5 658.6 568.0 660.2 568.6 661.8 C569.1 663.3 569.7 664.9 570.3 666.5 C570.8 668.1 571.4 669.7 571.9 671.2 C572.5 672.8 573.1 674.4 573.6 676.0 C574.2 677.6 574.8 679.1 575.3 680.7 C575.9 682.3 576.5 683.9 577.0 685.4 C577.6 687.0 578.2 688.6 578.7 690.2 C579.3 691.7 579.9 693.3 580.5 694.9 C581.1 696.4 581.6 698.0 582.2 699.6 C582.8 701.1 583.4 702.7 584.0 704.3 C584.6 705.8 585.2 707.4 585.8 709.0 C586.4 710.5 587.0 712.1 587.6 713.7 C588.2 715.2 588.8 716.8 589.4 718.3 C590.0 719.9 590.6 721.5 591.2 723.0 C591.8 724.6 592.4 726.1 593.1 727.7 C593.7 729.2 594.3 730.8 594.9 732.3 C595.6 733.9 596.2 735.4 596.8 736.9 C597.5 738.5 598.1 740.0 598.8 741.6 C599.4 743.1 600.1 744.7 600.7 746.2 C601.4 747.7 602.0 749.3 602.7 750.8 C603.4 752.3 604.0 753.8 604.7 755.4 C605.4 756.9 606.0 758.4 606.7 759.9 C607.4 761.5 608.1 763.0 608.8 764.5 C609.5 766.0 610.2 767.5 610.9 769.0 C611.6 770.5 612.3 772.0 613.0 773.5 C613.7 775.1 614.5 776.6 615.2 778.1 C615.9 779.5 616.7 781.0 617.4 782.5 C618.1 784.0 618.9 785.5 619.6 787.0 C620.4 788.5 621.1 790.0 621.9 791.5 C622.7 792.9 623.4 794.4 624.2 795.9 C625.0 797.4 625.8 798.8 626.6 800.3 C627.4 801.8 628.2 803.2 629.0 804.7 C629.8 806.1 630.6 807.6 631.4 809.0 C632.2 810.5 633.1 811.9 633.9 813.4 C634.7 814.8 635.6 816.3 636.4 817.7 C637.3 819.1 638.1 820.6 639.0 822.0 C639.8 823.4 640.7 824.9 641.6 826.3 C642.4 827.7 643.3 829.1 644.2 830.5 C645.1 832.0 646.0 833.4 646.9 834.8 C647.7 836.2 648.6 837.6 649.6 839.0 C650.5 840.4 651.4 841.8 652.3 843.2 C653.2 844.6 654.1 846.0 655.1 847.4 C656.0 848.8 656.9 850.1 657.9 851.5 C658.8 852.9 659.7 854.3 660.7 855.7 C661.6 857.0 662.6 858.4 663.6 859.8 C664.5 861.1 665.5 862.5 666.5 863.9 C667.4 865.2 668.4 866.6 669.4 868.0 C670.4 869.3 671.4 870.7 672.4 872.0 C673.3 873.4 674.3 874.7 675.3 876.0 C676.3 877.4 677.3 878.7 678.4 880.1 C679.4 881.4 680.4 882.7 681.4 884.1 C682.4 885.4 683.4 886.7 684.5 888.0 C685.5 889.4 686.5 890.7 687.6 892.0 C688.6 893.3 689.6 894.6 690.7 895.9 C691.7 897.2 692.8 898.5 693.8 899.8 C694.9 901.2 695.9 902.5 697.0 903.7 C698.1 905.0 699.1 906.3 700.2 907.6 C701.2 908.9 702.3 910.2 703.4 911.5 C704.5 912.8 705.5 914.1 706.6 915.4 C707.7 916.6 708.7 917.9 709.8 919.2 C710.9 920.5 712.0 921.8 713.0 923.1 C714.1 924.3 715.2 925.6 716.3 926.9 C717.3 928.2 718.4 929.4 719.5 930.7 C720.6 932.0 721.6 933.3 722.7 934.6 C723.8 935.9 724.8 937.1 725.9 938.4 C727.0 939.7 728.0 941.0 729.1 942.3 C730.2 943.6 731.2 944.8 732.3 946.1 C733.3 947.4 734.4 948.7 735.4 950.0 C736.5 951.3 737.6 952.5 738.6 953.8 C739.7 955.1 740.7 956.4 741.8 957.7 C742.9 958.9 743.9 960.2 745.0 961.5 C746.1 962.8 747.1 964.0 748.2 965.3 C749.3 966.6 750.4 967.8 751.4 969.1 C752.5 970.3 753.6 971.6 754.7 972.9 C755.8 974.1 756.9 975.4 758.0 976.6 C759.1 977.8 760.2 979.1 761.3 980.3 C762.4 981.5 763.6 982.8 764.7 984.0 C765.8 985.2 767.0 986.4 768.1 987.6 C769.3 988.9 770.4 990.1 771.6 991.3 C772.7 992.4 773.9 993.6 775.1 994.8 C776.3 996.0 777.5 997.2 778.7 998.3 C779.9 999.5 781.1 1000.7 782.3 1001.8 C783.6 1003.0 784.8 1004.1 786.0 1005.2 C787.3 1006.3 788.6 1007.5 789.8 1008.6 C791.1 1009.7 792.4 1010.8 793.6 1011.9 C794.9 1013.0 796.2 1014.0 797.5 1015.1 C798.8 1016.2 800.1 1017.2 801.5 1018.3 C802.8 1019.3 804.1 1020.4 805.5 1021.4 C806.8 1022.4 808.1 1023.4 809.5 1024.4 C810.9 1025.4 812.2 1026.4 813.6 1027.3 C815.0 1028.3 816.4 1029.3 817.8 1030.2 C819.1 1031.1 820.5 1032.1 822.0 1033.0 C823.4 1033.9 824.8 1034.8 826.2 1035.7 C827.6 1036.6 829.1 1037.4 830.5 1038.3 C832.0 1039.1 833.4 1040.0 834.9 1040.8 C836.3 1041.6 837.8 1042.4 839.3 1043.2 C840.7 1044.0 842.2 1044.7 843.7 1045.5 C845.2 1046.2 846.7 1047.0 848.2 1047.7 C849.7 1048.4 851.2 1049.1 852.7 1049.8 C854.3 1050.5 855.8 1051.1 857.3 1051.8 C858.9 1052.4 860.4 1053.0 861.9 1053.6 C863.5 1054.2 865.0 1054.8 866.6 1055.4 C868.2 1056.0 869.7 1056.5 871.3 1057.1 C872.9 1057.6 874.4 1058.1 876.0 1058.6 C877.6 1059.1 879.2 1059.6 880.8 1060.1 C882.4 1060.6 884.0 1061.0 885.6 1061.5 C887.2 1061.9 888.8 1062.3 890.4 1062.7 C892.0 1063.2 893.6 1063.5 895.3 1063.9 C896.9 1064.3 898.5 1064.7 900.1 1065.0 C901.8 1065.4 903.4 1065.7 905.0 1066.0 C906.7 1066.3 908.3 1066.6 910.0 1066.9 C911.6 1067.2 913.3 1067.5 914.9 1067.7 C916.6 1068.0 918.2 1068.2 919.9 1068.5 C921.5 1068.7 923.2 1068.9 924.8 1069.1 C926.5 1069.3 928.2 1069.5 929.8 1069.7 C931.5 1069.9 933.2 1070.1 934.8 1070.2 C936.5 1070.4 938.2 1070.5 939.8 1070.6 C941.5 1070.8 943.2 1070.9 944.9 1071.0 C946.5 1071.1 948.2 1071.2 949.9 1071.3 C951.6 1071.3 953.2 1071.4 954.9 1071.5 C956.6 1071.5 958.3 1071.6 959.9 1071.6 C961.6 1071.6 963.3 1071.7 965.0 1071.7 C966.6 1071.7 968.3 1071.7 970.0 1071.7 C971.7 1071.7 973.3 1071.7 975.0 1071.6 C976.7 1071.6 978.3 1071.6 980.0 1071.5 C981.7 1071.5 983.4 1071.4 985.0 1071.3 C986.7 1071.3 988.4 1071.2 990.0 1071.1 C991.7 1071.0 993.3 1070.9 995.0 1070.8 C996.7 1070.7 999.1 1070.5 1000.0 1070.5 L1033.1 1070.9 L1053.0 1078.9 L1064.4 1074.1 L1075.8 1069.9 L1085.2 1071.1 L1093.8 1075.0 L1100.4 1074.6 L1110.8 1070.2 L1120.3 1065.0 L1125.9 1063.3 L1150.0 1062.5 L1173.3 1062.2 L1204.0 1061.0 L1240.0 1058.7 L1290.0 1058.5 L1340.0 1055.2 L1390.0 1054.3 L1423.3 1052.5 L1454.0 1051.7 L1490.0 1048.5"/>
<path stroke="#00f" stroke-width="8" transform="translate(0.37,0.41)" d="M190.0 237.0 L205.4 237.0 L207.8 242.3 C208.2 243.1 209.5 245.5 210.2 247.0 C211.0 248.6 211.6 250.1 212.3 251.6 C212.9 253.1 213.5 254.6 214.1 256.1 C214.7 257.6 215.3 259.0 215.9 260.5 C216.5 262.0 217.0 263.5 217.6 265.0 C218.2 266.6 218.9 268.1 219.5 269.7 C220.2 271.2 220.9 272.9 221.7 274.5 C222.4 276.1 223.2 277.9 224.2 279.3 C225.2 280.7 226.4 282.2 227.7 283.1 C229.0 284.1 230.7 284.7 232.1 284.9 C233.5 285.1 235.0 284.7 236.3 284.1 C237.6 283.4 238.7 282.3 239.8 281.0 C240.8 279.8 241.8 278.2 242.7 276.7 C243.5 275.1 244.4 273.5 245.1 271.9 C245.9 270.3 246.7 268.8 247.4 267.2 C248.1 265.7 248.7 264.2 249.4 262.6 C250.0 261.1 250.6 259.6 251.2 258.1 C251.8 256.6 252.4 255.1 252.9 253.5 C253.5 252.0 254.0 250.5 254.6 248.9 C255.1 247.4 255.7 245.9 256.2 244.3 C256.8 242.7 257.3 241.1 257.9 239.5 C258.4 237.9 259.0 236.3 259.6 234.7 C260.3 233.1 260.9 231.4 261.6 229.9 C262.2 228.3 262.9 226.7 263.7 225.2 C264.5 223.7 265.3 222.2 266.2 220.8 C267.1 219.5 268.0 218.1 269.0 216.9 C270.1 215.7 271.2 214.6 272.5 213.9 C273.9 213.2 275.4 212.8 276.9 212.5 C278.5 212.3 280.3 212.3 282.1 212.4 C283.8 212.4 285.7 212.6 287.5 212.7 C289.3 212.7 291.1 212.8 292.8 212.6 C294.5 212.4 296.1 212.0 297.5 211.4 C299.0 210.8 300.3 209.8 301.6 208.8 C302.9 207.8 304.0 206.6 305.2 205.4 C306.4 204.1 307.5 202.8 308.5 201.5 C309.6 200.1 310.7 198.7 311.8 197.4 C312.8 196.0 313.9 194.6 315.0 193.3 C316.1 192.0 317.3 190.8 318.4 189.6 C319.6 188.5 320.9 187.4 322.2 186.4 C323.5 185.5 324.9 184.7 326.4 184.1 C327.9 183.5 329.6 183.0 331.2 182.7 C332.8 182.5 334.6 182.4 336.3 182.5 C337.9 182.6 339.6 182.9 341.2 183.4 C342.8 183.9 344.3 184.6 345.7 185.5 C347.1 186.3 348.4 187.4 349.6 188.5 C350.9 189.6 352.1 190.9 353.2 192.2 C354.4 193.5 355.5 194.9 356.6 196.2 C357.7 197.5 358.8 198.8 359.9 200.1 C361.1 201.4 362.2 202.6 363.4 203.8 C364.5 205.0 365.7 206.2 366.8 207.4 C368.0 208.6 369.1 209.8 370.3 210.9 C371.4 212.1 372.6 213.3 373.8 214.4 C374.9 215.6 376.1 216.8 377.2 218.0 C378.4 219.2 379.5 220.4 380.6 221.7 C381.8 222.9 382.9 224.1 384.0 225.4 C385.1 226.7 386.3 227.9 387.4 229.2 C388.4 230.5 389.5 231.8 390.6 233.1 C391.7 234.4 392.7 235.7 393.8 237.0 C394.8 238.3 395.9 239.6 396.9 240.9 C397.9 242.3 398.9 243.6 399.9 244.9 C400.9 246.3 401.9 247.6 402.9 249.0 C403.8 250.4 404.8 251.7 405.7 253.1 C406.7 254.5 407.6 255.8 408.5 257.2 C409.5 258.6 410.4 260.0 411.3 261.4 C412.2 262.8 413.1 264.2 413.9 265.6 C414.8 267.1 415.7 268.5 416.5 269.9 C417.4 271.3 418.3 272.8 419.1 274.2 C419.9 275.6 420.8 277.1 421.6 278.5 C422.4 280.0 423.2 281.4 424.0 282.9 C424.8 284.3 425.6 285.8 426.4 287.3 C427.2 288.8 427.9 290.2 428.7 291.7 C429.5 293.2 430.2 294.7 431.0 296.2 C431.7 297.6 432.5 299.1 433.2 300.6 C434.0 302.1 434.7 303.6 435.4 305.1 C436.1 306.6 436.8 308.1 437.6 309.7 C438.3 311.2 439.0 312.7 439.7 314.2 C440.4 315.7 441.0 317.2 441.7 318.8 C442.4 320.3 443.1 321.8 443.8 323.3 C444.4 324.9 445.1 326.4 445.8 327.9 C446.5 329.5 447.1 331.0 447.8 332.6 C448.4 334.1 449.1 335.6 449.7 337.2 C450.4 338.7 451.0 340.3 451.7 341.8 C452.3 343.3 453.0 344.9 453.6 346.4 C454.3 348.0 454.9 349.5 455.5 351.1 C456.2 352.6 456.8 354.2 457.4 355.7 C458.1 357.3 458.7 358.8 459.3 360.4 C459.9 361.9 460.6 363.5 461.2 365.0 C461.8 366.6 462.5 368.1 463.1 369.7 C463.7 371.2 464.3 372.8 464.9 374.3 C465.6 375.9 466.2 377.4 466.8 379.0 C467.4 380.5 468.0 382.1 468.6 383.6 C469.2 385.2 469.9 386.7 470.5 388.3 C471.1 389.9 471.7 391.4 472.3 393.0 C472.9 394.5 473.5 396.1 474.1 397.6 C474.7 399.2 475.3 400.7 475.9 402.3 C476.5 403.9 477.1 405.4 477.7 407.0 C478.3 408.5 478.9 410.1 479.5 411.7 C480.1 413.2 480.7 414.8 481.3 416.3 C481.9 417.9 482.5 419.5 483.1 421.0 C483.7 422.6 484.3 424.1 484.9 425.7 C485.4 427.3 486.0 428.8 486.6 430.4 C487.2 431.9 487.8 433.5 488.4 435.1 C489.0 436.6 489.5 438.2 490.1 439.8 C490.7 441.3 491.3 442.9 491.9 444.4 C492.5 446.0 493.0 447.6 493.6 449.1 C494.2 450.7 494.8 452.3 495.3 453.8 C495.9 455.4 496.5 457.0 497.1 458.5 C497.6 460.1 498.2 461.7 498.8 463.2 C499.4 464.8 499.9 466.4 500.5 467.9 C501.1 469.5 501.6 471.1 502.2 472.6 C502.8 474.2 503.3 475.8 503.9 477.3 C504.5 478.9 505.0 480.5 505.6 482.0 C506.2 483.6 506.7 485.2 507.3 486.8 C507.9 488.3 508.4 489.9 509.0 491.5 C509.6 493.0 510.1 494.6 510.7 496.2 C511.2 497.7 511.8 499.3 512.4 500.9 C512.9 502.5 513.5 504.0 514.0 505.6 C514.6 507.2 515.2 508.8 515.7 510.3 C516.3 511.9 516.8 513.5 517.4 515.0 C517.9 516.6 518.5 518.2 519.1 519.8 C519.6 521.3 520.2 522.9 520.7 524.5 C521.3 526.1 521.8 527.6 522.4 529.2 C522.9 530.8 523.5 532.4 524.0 533.9 C524.6 535.5 525.1 537.1 525.7 538.6 C526.3 540.2 526.8 541.8 527.4 543.4 C527.9 544.9 528.5 546.5 529.0 548.1 C529.6 549.7 530.1 551.3 530.7 552.8 C531.2 554.4 531.8 556.0 532.3 557.6 C532.9 559.1 533.4 560.7 534.0 562.3 C534.5 563.9 535.1 565.4 535.6 567.0 C536.1 568.6 536.7 570.2 537.2 571.7 C537.8 573.3 538.3 574.9 538.9 576.5 C539.4 578.1 540.0 579.6 540.5 581.2 C541.1 582.8 541.6 584.4 542.2 585.9 C542.7 587.5 543.3 589.1 543.8 590.7 C544.4 592.3 544.9 593.8 545.5 595.4 C546.0 597.0 546.6 598.6 547.1 600.2 C547.7 601.7 548.2 603.3 548.8 604.9 C549.3 606.5 549.8 608.1 550.4 609.6 C550.9 611.2 551.5 612.8 552.0 614.4 C552.6 615.9 553.1 617.5 553.7 619.1 C554.2 620.7 554.8 622.3 555.3 623.8 C555.9 625.4 556.4 627.0 557.0 628.6 C557.5 630.2 558.1 631.7 558.6 633.3 C559.2 634.9 559.7 636.5 560.3 638.1 C560.8 639.6 561.4 641.2 561.9 642.8 C562.5 644.4 563.0 646.0 563.6 647.5 C564.2 649.1 564.7 650.7 565.3 652.3 C565.8 653.9 566.4 655.4 566.9 657.0 C567.5 658.6 568.0 660.2 568.6 661.8 C569.1 663.3 569.7 664.9 570.3 666.5 C570.8 668.1 571.4 669.7 571.9 671.2 C572.5 672.8 573.1 674.4 573.6 676.0 C574.2 677.6 574.8 679.1 575.3 680.7 C575.9 682.3 576.5 683.9 577.0 685.4 C577.6 687.0 578.2 688.6 578.7 690.2 C579.3 691.7 579.9 693.3 580.5 694.9 C581.1 696.4 581.6 698.0 582.2 699.6 C582.8 701.1 583.4 702.7 584.0 704.3 C584.6 705.8 585.2 707.4 585.8 709.0 C586.4 710.5 587.0 712.1 587.6 713.7 C588.2 715.2 588.8 716.8 589.4 718.3 C590.0 719.9 590.6 721.5 591.2 723.0 C591.8 724.6 592.4 726.1 593.1 727.7 C593.7 729.2 594.3 730.8 594.9 732.3 C595.6 733.9 596.2 735.4 596.8 736.9 C597.5 738.5 598.1 740.0 598.8 741.6 C599.4 743.1 600.1 744.7 600.7 746.2 C601.4 747.7 602.0 749.3 602.7 750.8 C603.4 752.3 604.0 753.8 604.7 755.4 C605.4 756.9 606.0 758.4 606.7 759.9 C607.4 761.5 608.1 763.0 608.8 764.5 C609.5 766.0 610.2 767.5 610.9 769.0 C611.6 770.5 612.3 772.0 613.0 773.5 C613.7 775.1 614.5 776.6 615.2 778.1 C615.9 779.5 616.7 781.0 617.4 782.5 C618.1 784.0 618.9 785.5 619.6 787.0 C620.4 788.5 621.1 790.0 621.9 791.5 C622.7 792.9 623.4 794.4 624.2 795.9 C625.0 797.4 625.8 798.8 626.6 800.3 C627.4 801.8 628.2 803.2 629.0 804.7 C629.8 806.1 630.6 807.6 631.4 809.0 C632.2 810.5 633.1 811.9 633.9 813.4 C634.7 814.8 635.6 816.3 636.4 817.7 C637.3 819.1 638.1 820.6 639.0 822.0 C639.8 823.4 640.7 824.9 641.6 826.3 C642.4 827.7 643.3 829.1 644.2 830.5 C645.1 832.0 646.0 833.4 646.9 834.8 C647.7 836.2 648.6 837.6 649.6 839.0 C650.5 840.4 651.4 841.8 652.3 843.2 C653.2 844.6 654.1 846.0 655.1 847.4 C656.0 848.8 656.9 850.1 657.9 851.5 C658.8 852.9 659.7 854.3 660.7 855.7 C661.6 857.0 662.6 858.4 663.6 859.8 C664.5 861.1 665.5 862.5 666.5 863.9 C667.4 865.2 668.4 866.6 669.4 868.0 C670.4 869.3 671.4 870.7 672.4 872.0 C673.3 873.4 674.3 874.7 675.3 876.0 C676.3 877.4 677.3 878.7 678.4 880.1 C679.4 881.4 680.4 882.7 681.4 884.1 C682.4 885.4 683.4 886.7 684.5 888.0 C685.5 889.4 686.5 890.7 687.6 892.0 C688.6 893.3 689.6 894.6 690.7 895.9 C691.7 897.2 692.8 898.5 693.8 899.8 C694.9 901.2 695.9 902.5 697.0 903.7 C698.1 905.0 699.1 906.3 700.2 907.6 C701.2 908.9 702.3 910.2 703.4 911.5 C704.5 912.8 705.5 914.1 706.6 915.4 C707.7 916.6 708.7 917.9 709.8 919.2 C710.9 920.5 712.0 921.8 713.0 923.1 C714.1 924.3 715.2 925.6 716.3 926.9 C717.3 928.2 718.4 929.4 719.5 930.7 C720.6 932.0 721.6 933.3 722.7 934.6 C723.8 935.9 724.8 937.1 725.9 938.4 C727.0 939.7 728.0 941.0 729.1 942.3 C730.2 943.6 731.2 944.8 732.3 946.1 C733.3 947.4 734.4 948.7 735.4 950.0 C736.5 951.3 737.6 952.5 738.6 953.8 C739.7 955.1 740.7 956.4 741.8 957.7 C742.9 958.9 743.9 960.2 745.0 961.5 C746.1 962.8 747.1 964.0 748.2 965.3 C749.3 966.6 750.4 967.8 751.4 969.1 C752.5 970.3 753.6 971.6 754.7 972.9 C755.8 974.1 756.9 975.4 758.0 976.6 C759.1 977.8 760.2 979.1 761.3 980.3 C762.4 981.5 763.6 982.8 764.7 984.0 C765.8 985.2 767.0 986.4 768.1 987.6 C769.3 988.9 770.4 990.1 771.6 991.3 C772.7 992.4 773.9 993.6 775.1 994.8 C776.3 996.0 777.5 997.2 778.7 998.3 C779.9 999.5 781.1 1000.7 782.3 1001.8 C783.6 1003.0 784.8 1004.1 786.0 1005.2 C787.3 1006.3 788.6 1007.5 789.8 1008.6 C791.1 1009.7 792.4 1010.8 793.6 1011.9 C794.9 1013.0 796.2 1014.0 797.5 1015.1 C798.8 1016.2 800.1 1017.2 801.5 1018.3 C802.8 1019.3 804.1 1020.4 805.5 1021.4 C806.8 1022.4 808.1 1023.4 809.5 1024.4 C810.9 1025.4 812.2 1026.4 813.6 1027.3 C815.0 1028.3 816.4 1029.3 817.8 1030.2 C819.1 1031.1 820.5 1032.1 822.0 1033.0 C823.4 1033.9 824.8 1034.8 826.2 1035.7 C827.6 1036.6 829.1 1037.4 830.5 1038.3 C832.0 1039.1 833.4 1040.0 834.9 1040.8 C836.3 1041.6 837.8 1042.4 839.3 1043.2 C840.7 1044.0 842.2 1044.7 843.7 1045.5 C845.2 1046.2 846.7 1047.0 848.2 1047.7 C849.7 1048.4 851.2 1049.1 852.7 1049.8 C854.3 1050.5 855.8 1051.1 857.3 1051.8 C858.9 1052.4 860.4 1053.0 861.9 1053.6 C863.5 1054.2 865.0 1054.8 866.6 1055.4 C868.2 1056.0 869.7 1056.5 871.3 1057.1 C872.9 1057.6 874.4 1058.1 876.0 1058.6 C877.6 1059.1 879.2 1059.6 880.8 1060.1 C882.4 1060.6 884.0 1061.0 885.6 1061.5 C887.2 1061.9 888.8 1062.3 890.4 1062.7 C892.0 1063.2 893.6 1063.5 895.3 1063.9 C896.9 1064.3 898.5 1064.7 900.1 1065.0 C901.8 1065.4 903.4 1065.7 905.0 1066.0 C906.7 1066.3 908.3 1066.6 910.0 1066.9 C911.6 1067.2 913.3 1067.5 914.9 1067.7 C916.6 1068.0 918.2 1068.2 919.9 1068.5 C921.5 1068.7 923.2 1068.9 924.8 1069.1 C926.5 1069.3 928.2 1069.5 929.8 1069.7 C931.5 1069.9 933.2 1070.1 934.8 1070.2 C936.5 1070.4 938.2 1070.5 939.8 1070.6 C941.5 1070.8 943.2 1070.9 944.9 1071.0 C946.5 1071.1 948.2 1071.2 949.9 1071.3 C951.6 1071.3 953.2 1071.4 954.9 1071.5 C956.6 1071.5 958.3 1071.6 959.9 1071.6 C961.6 1071.6 963.3 1071.7 965.0 1071.7 C966.6 1071.7 968.3 1071.7 970.0 1071.7 C971.7 1071.7 973.3 1071.7 975.0 1071.6 C976.7 1071.6 978.3 1071.6 980.0 1071.5 C981.7 1071.5 983.4 1071.4 985.0 1071.3 C986.7 1071.3 988.4 1071.2 990.0 1071.1 C991.7 1071.0 993.3 1070.9 995.0 1070.8 C996.7 1070.7 999.1 1070.5 1000.0 1070.5 L1033.1 1070.9 L1053.0 1078.9 L1064.4 1074.1 L1075.8 1069.9 L1085.2 1071.1 L1093.8 1075.0 L1100.4 1074.6 L1110.8 1070.2 L1120.3 1065.0 L1125.9 1063.3 L1150.0 1062.5 L1173.3 1062.2 L1204.0 1061.0 L1240.0 1058.7 L1290.0 1058.5 L1340.0 1055.2 L1390.0 1054.3 L1423.3 1052.5 L1454.0 1051.7 L1490.0 1048.5"/>
</g>
<g font-family="'Liberation Sans', Arial, sans-serif" font-size="37" fill="#000" stroke="#000" stroke-width="1.3" stroke-linejoin="round">
<text transform="translate(206.0,1140.6) scale(1,1.07)" text-anchor="middle">200</text>
<text transform="translate(462.9,1140.6) scale(1,1.07)" text-anchor="middle">400</text>
<text transform="translate(719.8,1140.6) scale(1,1.07)" text-anchor="middle">600</text>
<text transform="translate(976.7,1140.6) scale(1,1.07)" text-anchor="middle">800</text>
<text transform="translate(1233.6,1140.6) scale(1,1.07)" text-anchor="middle">1000</text>
<text transform="translate(1490.5,1140.6) scale(1,1.07)" text-anchor="middle">1200</text>
<text transform="translate(185,995.6) scale(1,1.07)" text-anchor="end">0.2</text>
<text transform="translate(185,786.1) scale(1,1.07)" text-anchor="end">0.4</text>
<text transform="translate(185,576.6) scale(1,1.07)" text-anchor="end">0.6</text>
<text transform="translate(185,367.0) scale(1,1.07)" text-anchor="end">0.8</text>
<text transform="translate(185,157.5) scale(1,1.07)" text-anchor="end">1.0</text>
</g>
<text x="606" y="1211" font-family="'Liberation Sans', Arial, sans-serif" font-weight="bold" font-size="55" fill="#000" stroke="#000" stroke-width="0.4">Wavelength (nm)</text>
<text transform="translate(95.8,753.5) rotate(-90)" font-family="'Liberation Sans', Arial, sans-serif" font-weight="bold" font-size="57" fill="#000" stroke="#000" stroke-width="0.4">Absorbance</text>
<rect x="1160.3" y="74.5" width="299.5" height="226" fill="#fff" stroke="#000" stroke-width="2.6"/>
<g stroke-width="14" stroke-linecap="round">
<line x1="1177.5" y1="108.7" x2="1285.5" y2="108.7" stroke="#000"/>
<line x1="1177.5" y1="184.2" x2="1285.5" y2="184.2" stroke="#f00"/>
<line x1="1177.5" y1="259.5" x2="1285.5" y2="259.5" stroke="#00f"/>
</g>
<g font-family="'Liberation Sans', Arial, sans-serif" font-size="50" fill="#000">
<text><tspan x="1298.7" y="124.8">K</tspan><tspan x="1331.0" y="144.2" font-size="29">2</tspan><tspan x="1346.0" y="124.8">TiBr</tspan><tspan x="1436.0" y="144.2" font-size="29">6</tspan></text>
<text><tspan x="1298.7" y="199.1">K</tspan><tspan x="1331.0" y="218.5" font-size="29">2</tspan><tspan x="1346.0" y="199.1">TiI</tspan><tspan x="1401.3" y="218.5" font-size="29">6</tspan></text>
<text><tspan x="1298.7" y="274.7">K</tspan><tspan x="1331.0" y="294.1" font-size="29">2</tspan><tspan x="1346.0" y="274.7">TiIBr</tspan></text>
</g>
</svg>
</body></html>
